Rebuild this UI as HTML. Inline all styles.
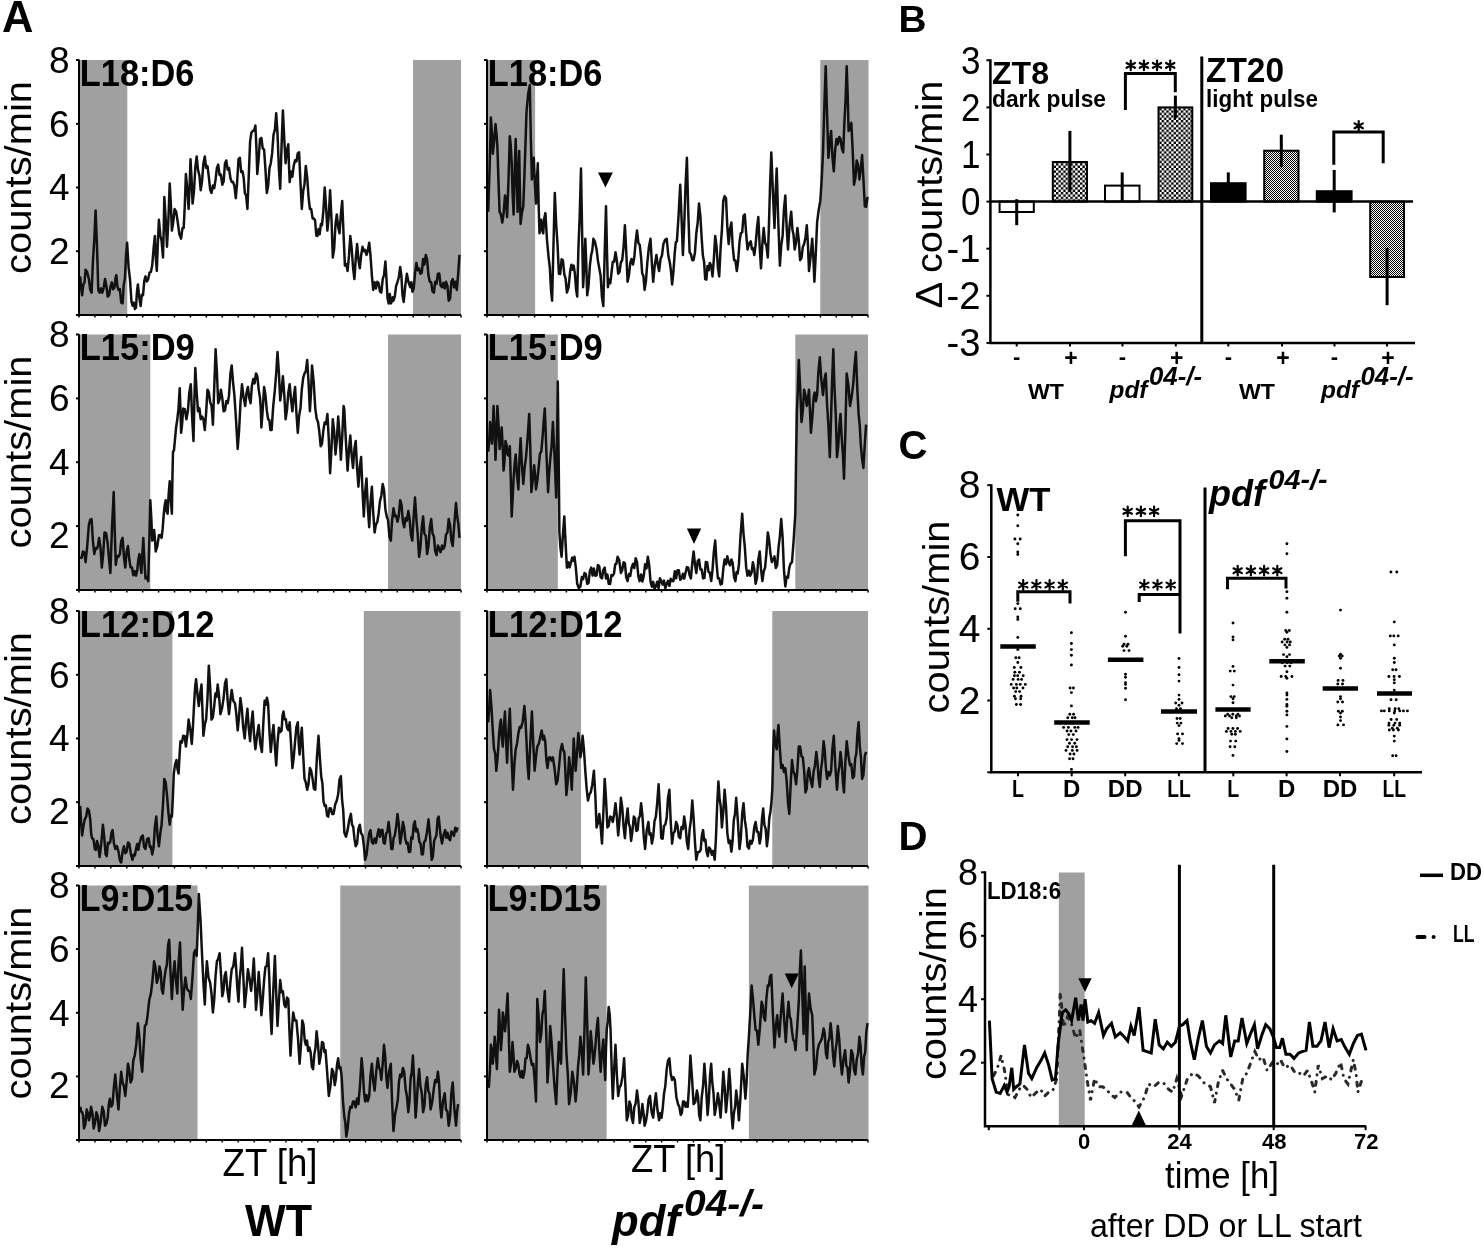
<!DOCTYPE html>
<html><head><meta charset="utf-8"><style>html,body{margin:0;padding:0;background:#fff;width:1484px;height:1248px;overflow:hidden}svg{display:block;will-change:transform}</style></head>
<body><svg width="1484" height="1248" viewBox="0 0 1484 1248"><defs>
<pattern id="chk" width="4.8" height="4.8" patternUnits="userSpaceOnUse"><rect width="4.8" height="4.8" fill="#fff"/><rect width="2.4" height="2.4" fill="#000"/><rect x="2.4" y="2.4" width="2.4" height="2.4" fill="#000"/></pattern>
<pattern id="fine" width="2" height="2" patternUnits="userSpaceOnUse"><rect width="2" height="2" fill="#fff"/><rect width="1" height="1" fill="#000"/><rect x="1" y="1" width="1" height="1" fill="#000"/></pattern>
</defs>
<rect x="79" y="60" width="48.3" height="255.0" fill="#a0a0a0"/>
<rect x="413" y="60" width="48.0" height="255.0" fill="#a0a0a0"/>
<rect x="487" y="60" width="48.1" height="255.0" fill="#a0a0a0"/>
<rect x="820.3" y="60" width="48.2" height="255.0" fill="#a0a0a0"/>
<rect x="79" y="334.5" width="71.3" height="255.5" fill="#a0a0a0"/>
<rect x="388" y="334.5" width="73.0" height="255.5" fill="#a0a0a0"/>
<rect x="487" y="334.5" width="70.8" height="255.5" fill="#a0a0a0"/>
<rect x="795.3" y="334.5" width="72.7" height="255.5" fill="#a0a0a0"/>
<rect x="79" y="611" width="93.4" height="255.0" fill="#a0a0a0"/>
<rect x="363.8" y="611" width="96.7" height="255.0" fill="#a0a0a0"/>
<rect x="487" y="611" width="94.0" height="255.0" fill="#a0a0a0"/>
<rect x="772.3" y="611" width="95.7" height="255.0" fill="#a0a0a0"/>
<rect x="79" y="885.5" width="118.5" height="254.5" fill="#a0a0a0"/>
<rect x="340.3" y="885.5" width="120.2" height="254.5" fill="#a0a0a0"/>
<rect x="487" y="885.5" width="119.6" height="254.5" fill="#a0a0a0"/>
<rect x="748.9" y="885.5" width="119.6" height="254.5" fill="#a0a0a0"/>
<path d="M80.2,276.4 L81.2,288.7 L82.1,295.3 L83.3,284.5 L84.5,282.4 L85.6,269.7 L87.3,272.5 L88.9,279.1 L90.2,289.6 L91.6,292.6 L92.9,262.1 L94.3,239.7 L95.6,210.4 L97.0,246.5 L98.3,289.9 L99.6,292.6 L101.0,288.4 L102.3,292.6 L103.7,287.8 L105.0,279.1 L106.4,285.9 L107.7,296.6 L109.1,295.2 L110.4,287.2 L111.8,282.4 L113.1,289.3 L114.5,287.2 L115.4,278.6 L116.4,275.1 L117.4,286.5 L118.5,289.9 L119.9,289.1 L121.2,302.7 L122.6,303.4 L123.7,285.0 L124.9,278.5 L126.0,256.1 L127.1,242.7 L128.6,267.4 L130.0,279.5 L131.5,302.0 L132.6,305.6 L133.7,302.6 L134.9,308.9 L136.0,307.4 L137.0,291.2 L137.9,284.5 L139.3,297.6 L140.6,306.1 L141.8,294.8 L143.0,295.3 L144.3,280.7 L145.5,276.4 L146.8,281.5 L148.2,279.1 L149.5,272.7 L150.9,272.0 L152.2,265.6 L153.6,248.4 L154.9,236.0 L155.8,257.8 L156.8,271.0 L157.9,242.1 L158.9,219.8 L160.3,235.2 L161.6,241.1 L163.0,257.5 L163.7,230.6 L164.3,196.9 L165.7,219.0 L167.0,246.8 L168.4,219.8 L169.7,183.4 L170.8,202.7 L171.9,230.6 L173.2,222.4 L174.6,209.0 L176.2,211.9 L177.8,222.5 L179.4,234.3 L181.1,238.7 L182.4,228.3 L183.7,227.9 L184.8,205.4 L185.9,174.0 L187.3,188.8 L188.6,209.0 L189.5,189.5 L190.5,159.2 L191.6,179.3 L192.6,203.6 L194.0,191.2 L195.3,167.6 L196.7,156.5 L198.0,169.9 L199.4,175.4 L200.7,190.2 L202.1,180.7 L203.4,163.5 L204.8,156.5 L206.1,167.8 L207.5,166.1 L208.8,176.7 L210.2,189.8 L211.5,192.9 L212.9,185.5 L214.2,188.2 L215.6,179.4 L216.9,168.0 L218.2,164.6 L219.6,175.2 L220.9,174.6 L222.3,184.8 L223.6,181.6 L225.0,163.3 L226.3,160.5 L227.7,169.8 L229.0,168.0 L230.4,178.0 L231.7,181.9 L233.1,182.1 L234.4,185.8 L235.8,198.2 L237.1,182.8 L238.5,159.2 L239.8,157.7 L241.2,172.1 L242.5,171.3 L243.7,178.0 L244.9,193.3 L246.1,195.4 L247.4,209.0 L248.7,177.1 L250.1,141.6 L251.4,132.8 L252.7,130.9 L254.1,130.5 L255.4,125.5 L256.4,147.6 L257.3,174.0 L258.7,158.3 L260.0,138.9 L261.4,137.9 L262.7,148.3 L264.1,149.7 L265.4,168.7 L266.8,192.9 L268.1,186.1 L269.5,168.1 L270.8,163.2 L272.2,152.7 L273.5,134.9 L274.9,129.6 L276.2,113.3 L277.5,133.4 L278.9,168.5 L280.2,188.8 L281.6,144.8 L282.9,110.6 L284.3,139.6 L285.6,163.2 L287.0,150.5 L288.3,144.3 L289.0,166.2 L289.7,182.1 L291.0,171.6 L292.4,176.6 L293.7,165.9 L295.1,160.3 L296.4,161.5 L297.8,153.3 L299.1,152.4 L300.5,183.3 L301.8,209.0 L303.2,191.1 L304.5,184.2 L305.8,165.9 L307.2,177.6 L308.5,196.3 L309.9,209.0 L311.2,208.9 L312.6,218.4 L313.9,218.5 L315.1,220.5 L316.3,235.5 L317.4,236.0 L318.6,229.0 L319.7,234.2 L320.9,223.9 L322.0,225.2 L323.4,210.6 L324.7,187.5 L326.1,207.2 L327.4,230.6 L328.8,215.5 L330.1,190.2 L331.5,219.2 L332.8,257.5 L334.2,248.2 L335.5,224.1 L336.8,214.4 L338.2,227.0 L339.5,233.3 L340.9,213.9 L342.2,200.9 L343.6,235.3 L344.9,265.6 L346.3,264.2 L347.6,271.0 L349.0,255.4 L350.3,236.0 L351.7,248.5 L353.0,267.2 L354.4,279.1 L355.7,259.3 L357.1,244.1 L358.4,259.2 L359.8,268.3 L361.1,255.7 L362.5,246.8 L363.8,251.1 L365.1,249.9 L366.5,254.9 L367.8,250.8 L369.2,242.7 L370.5,255.4 L371.9,275.9 L373.2,289.9 L374.6,282.2 L375.9,288.5 L377.3,281.8 L378.6,283.2 L380.0,291.6 L381.3,292.6 L382.7,279.3 L384.0,275.0 L385.4,261.6 L386.4,277.7 L387.5,298.0 L388.7,303.6 L389.8,293.9 L391.0,303.4 L392.1,300.7 L392.8,297.2 L393.5,300.7 L394.8,296.4 L396.1,286.1 L397.5,281.8 L398.8,277.4 L400.2,267.0 L401.4,276.0 L402.5,295.2 L403.7,302.0 L405.3,285.6 L406.9,273.7 L408.5,282.2 L410.2,287.2 L411.3,282.3 L412.5,291.8 L413.7,288.5 L415.0,273.5 L416.4,262.9 L417.7,270.3 L419.1,268.4 L420.4,273.7 L421.8,272.7 L423.1,258.9 L424.4,264.5 L425.8,254.9 L427.1,259.5 L428.5,275.5 L429.8,281.8 L431.2,282.3 L432.5,291.3 L433.9,292.6 L435.2,281.7 L436.6,283.7 L437.9,273.7 L439.3,273.6 L440.6,285.6 L442.0,287.2 L443.3,282.9 L444.7,288.4 L446.0,281.8 L447.4,285.8 L448.7,300.7 L450.1,298.4 L451.4,281.5 L452.7,279.1 L454.1,287.5 L455.4,281.8 L456.8,289.9 L458.1,274.9 L459.5,254.9" fill="none" stroke="#111" stroke-width="2.5" stroke-linejoin="round"/>
<path d="M488.2,211.7 L489.6,168.2 L490.9,117.4 L491.9,132.6 L492.8,153.8 L494.2,140.7 L495.5,124.1 L496.5,133.8 L497.4,147.0 L498.5,182.1 L499.6,211.7 L500.9,214.5 L502.3,222.5 L503.6,213.3 L505.0,195.6 L506.0,201.0 L507.1,217.1 L508.5,180.1 L509.8,136.3 L510.7,144.5 L511.7,163.2 L512.6,194.3 L513.6,214.4 L514.7,171.4 L515.7,138.9 L516.7,178.4 L517.6,211.7 L518.4,178.9 L519.2,151.1 L519.9,190.0 L520.6,223.9 L521.9,212.7 L523.3,206.3 L524.9,161.6 L526.5,112.0 L528.1,94.5 L529.8,85.0 L530.8,137.3 L531.9,179.4 L532.9,163.7 L533.8,157.8 L534.9,184.2 L536.0,203.6 L536.9,179.3 L537.8,163.2 L538.6,203.0 L539.5,233.3 L540.4,224.6 L541.3,219.8 L542.3,230.7 L543.2,233.3 L544.3,218.0 L545.4,213.1 L547.0,240.0 L548.6,257.5 L549.8,267.4 L551.0,289.8 L552.1,300.7 L553.5,244.4 L554.8,192.9 L556.2,224.5 L557.5,243.8 L558.9,273.7 L560.2,274.0 L561.6,259.3 L562.9,260.2 L564.3,274.2 L565.6,278.6 L566.9,292.6 L568.6,287.1 L570.2,271.0 L571.4,264.8 L572.5,269.7 L573.7,265.6 L574.9,273.8 L576.0,288.5 L577.2,296.6 L578.4,248.8 L579.7,216.0 L581.0,168.6 L582.0,225.7 L583.1,287.2 L584.2,267.8 L585.3,238.7 L586.2,261.6 L587.2,295.3 L588.5,286.0 L589.9,265.3 L591.2,254.9 L592.3,250.5 L593.4,238.7 L595.0,241.9 L596.6,249.5 L597.9,260.6 L599.3,268.3 L600.6,275.5 L602.0,297.6 L603.3,306.1 L604.7,252.5 L606.0,206.3 L607.0,252.0 L607.9,287.2 L609.1,279.4 L610.3,283.2 L611.4,273.7 L612.8,261.7 L614.1,261.8 L615.5,252.2 L616.8,260.3 L618.2,273.7 L619.5,272.0 L620.9,262.2 L622.2,260.2 L623.6,246.6 L624.9,225.2 L626.2,250.9 L627.6,281.8 L628.9,275.6 L630.3,262.9 L631.6,259.0 L633.0,264.5 L634.3,257.5 L635.7,241.1 L637.0,230.6 L638.4,243.0 L639.7,244.7 L641.1,257.5 L642.2,273.5 L643.4,275.8 L644.6,289.9 L645.9,281.6 L647.3,262.9 L648.9,247.2 L650.5,238.7 L651.9,263.9 L653.2,281.8 L654.8,264.7 L656.4,254.9 L657.8,264.7 L659.1,271.0 L660.6,258.7 L662.0,255.4 L663.4,244.1 L665.1,239.7 L666.7,238.7 L668.3,255.5 L669.9,262.9 L671.0,271.4 L672.1,284.5 L673.4,271.8 L674.8,252.2 L675.8,242.3 L676.9,241.4 L678.5,216.9 L680.2,184.8 L681.5,216.9 L682.9,254.9 L684.2,226.2 L685.5,186.4 L686.9,157.8 L688.2,209.7 L689.6,252.2 L690.9,254.1 L692.3,260.2 L693.6,260.0 L695.0,252.2 L696.3,233.4 L697.7,222.5 L699.0,203.6 L700.4,216.5 L701.7,238.7 L702.9,255.8 L704.1,261.8 L705.2,279.1 L706.4,279.6 L707.5,265.9 L708.7,270.3 L709.8,262.9 L711.2,265.7 L712.5,276.4 L713.8,259.8 L715.2,236.0 L716.5,245.8 L717.9,267.3 L719.2,276.4 L720.6,247.9 L721.9,229.8 L723.3,200.9 L724.6,196.1 L726.0,198.2 L727.3,226.4 L728.7,244.1 L730.0,228.9 L731.4,222.5 L732.7,246.4 L734.1,260.2 L735.4,260.4 L736.8,271.0 L738.1,261.1 L739.5,242.1 L740.8,233.3 L742.2,232.3 L743.5,215.8 L744.8,214.4 L746.2,234.1 L747.5,249.5 L749.2,243.3 L750.8,241.4 L751.9,249.2 L753.1,248.4 L754.3,254.9 L755.6,244.8 L757.0,227.8 L758.3,217.1 L759.7,246.9 L761.0,268.3 L762.4,243.4 L763.7,227.9 L765.1,242.9 L766.4,245.4 L767.8,257.5 L768.9,226.9 L770.1,183.3 L771.3,152.4 L772.9,192.4 L774.5,227.9 L775.6,193.2 L776.7,168.6 L778.3,222.5 L779.9,265.6 L781.2,245.6 L782.6,235.9 L783.9,209.9 L785.3,195.6 L786.6,226.0 L788.0,249.5 L789.6,225.1 L791.2,211.7 L792.4,229.2 L793.5,234.6 L794.7,249.5 L796.1,242.0 L797.4,227.9 L798.8,240.4 L800.1,260.2 L801.5,257.8 L802.8,247.1 L804.1,244.1 L805.5,237.5 L806.8,225.2 L807.9,243.7 L809.0,271.0 L810.6,256.6 L812.2,238.7 L813.3,256.5 L814.4,281.8 L815.7,255.5 L817.1,222.5 L818.7,210.0 L820.3,200.9 L821.7,179.6 L823.0,152.4 L824.4,105.2 L825.7,66.2 L827.1,115.6 L828.4,157.8 L829.8,142.4 L831.1,130.9 L832.4,156.5 L833.8,171.3 L835.1,150.4 L836.5,138.9 L837.8,144.3 L839.2,136.9 L840.5,138.9 L841.9,148.4 L843.2,152.4 L844.4,121.9 L845.6,99.6 L846.7,66.2 L847.7,95.8 L848.6,130.9 L850.0,129.0 L851.3,122.8 L852.7,150.5 L854.0,184.8 L855.4,177.8 L856.7,160.5 L858.1,165.1 L859.4,179.4 L860.7,169.9 L862.1,155.1 L863.4,178.5 L864.8,206.3 L866.1,206.8 L867.5,196.9" fill="none" stroke="#111" stroke-width="2.5" stroke-linejoin="round"/>
<path d="M80.2,556.8 L81.6,558.0 L82.9,551.4 L84.3,552.5 L85.6,562.2 L87.3,545.3 L88.9,524.5 L90.2,519.9 L91.6,519.1 L92.9,540.9 L94.3,554.1 L95.6,548.1 L97.0,548.7 L98.0,545.3 L99.1,537.9 L100.5,547.5 L101.8,567.6 L103.2,554.2 L104.5,532.5 L106.1,533.2 L107.7,543.3 L109.1,560.1 L110.4,573.0 L112.0,527.6 L113.7,492.1 L114.7,530.4 L115.8,564.9 L117.2,555.9 L118.5,556.8 L119.9,553.9 L121.2,541.3 L122.6,537.9 L123.9,556.5 L125.3,567.6 L126.6,551.6 L128.0,546.0 L129.3,559.5 L130.6,567.6 L132.0,567.5 L133.3,575.3 L134.7,571.1 L136.0,575.7 L137.2,570.6 L138.4,559.0 L139.5,554.1 L140.5,565.4 L141.4,573.0 L142.4,553.0 L143.3,537.9 L144.4,561.0 L145.5,578.4 L146.8,576.9 L148.2,581.1 L149.2,545.2 L150.3,500.2 L151.3,517.7 L152.2,540.6 L153.2,538.8 L154.1,529.9 L154.9,538.3 L155.7,551.4 L157.3,546.3 L158.9,535.2 L160.3,534.9 L161.6,537.9 L162.7,528.4 L163.8,513.7 L164.7,505.2 L165.7,500.2 L166.6,511.4 L167.6,513.7 L168.7,493.7 L169.7,481.3 L170.8,499.9 L171.9,513.7 L172.4,479.2 L173.0,451.7 L174.0,450.2 L175.1,438.2 L176.2,426.7 L177.3,419.3 L178.5,408.6 L179.7,388.3 L180.4,407.3 L181.1,432.8 L182.1,424.2 L183.2,408.6 L184.8,409.1 L186.4,419.3 L187.9,410.8 L189.3,392.4 L190.8,384.3 L192.1,416.9 L193.5,440.9 L194.4,399.1 L195.3,368.1 L196.7,392.7 L198.0,411.3 L199.4,408.2 L200.7,419.2 L202.1,416.6 L203.4,419.3 L204.8,430.1 L206.1,413.1 L207.5,389.7 L208.8,392.1 L210.2,402.3 L211.5,405.9 L212.2,413.1 L212.9,424.7 L214.2,388.9 L215.6,349.3 L216.9,371.7 L218.2,403.2 L219.6,399.1 L220.9,389.7 L222.3,398.2 L223.6,411.3 L225.0,410.5 L226.3,401.0 L227.7,403.2 L229.0,395.6 L230.4,373.8 L231.7,365.4 L233.1,383.0 L234.4,395.1 L236.0,419.5 L237.7,449.0 L239.1,430.2 L240.5,402.4 L242.0,384.3 L243.6,397.3 L245.2,405.9 L246.5,393.1 L247.9,387.0 L249.2,397.7 L250.6,403.2 L251.9,385.7 L253.3,378.9 L254.6,383.4 L256.0,373.4 L257.3,376.2 L258.7,389.6 L260.0,397.8 L260.7,407.2 L261.4,427.4 L262.7,410.1 L264.1,387.0 L265.4,394.8 L266.8,410.2 L268.1,419.3 L269.3,419.8 L270.4,430.0 L271.6,430.1 L273.2,406.3 L274.9,389.7 L276.2,373.2 L277.5,352.0 L278.9,372.6 L280.2,400.5 L281.6,390.0 L282.9,376.2 L284.3,395.1 L285.6,419.3 L287.0,409.7 L288.3,392.8 L289.7,384.3 L291.0,399.6 L292.4,411.3 L293.7,397.4 L295.1,387.0 L296.4,412.7 L297.8,432.8 L299.1,415.9 L300.5,408.0 L301.8,389.7 L303.2,377.9 L304.5,373.5 L305.8,371.3 L307.2,360.0 L308.5,381.5 L309.9,411.3 L311.0,392.7 L312.0,365.4 L313.7,382.0 L315.3,408.6 L316.6,418.4 L318.0,422.0 L319.3,431.3 L320.7,446.3 L322.0,443.6 L323.4,430.1 L324.7,422.5 L326.1,423.8 L327.4,413.9 L328.8,439.5 L330.1,473.2 L331.5,448.1 L332.8,419.3 L334.2,432.0 L335.5,454.4 L336.8,440.6 L338.2,416.6 L339.5,434.1 L340.9,459.8 L342.2,437.3 L343.6,405.9 L344.3,409.2 L344.9,422.0 L346.3,448.5 L347.6,470.6 L349.0,449.4 L350.3,435.5 L351.7,455.3 L353.0,467.9 L354.4,449.5 L355.7,440.9 L357.1,468.6 L358.4,486.7 L359.8,467.1 L361.1,457.1 L362.5,490.6 L363.8,516.4 L365.1,492.4 L366.5,478.6 L367.8,507.2 L369.2,527.2 L370.5,502.6 L371.9,486.7 L373.2,512.2 L374.6,532.5 L375.9,524.5 L377.3,522.1 L378.6,513.7 L380.0,500.8 L381.3,496.0 L382.7,484.0 L384.0,489.9 L385.4,509.4 L386.7,516.4 L388.1,520.4 L389.4,536.6 L390.8,540.6 L392.1,520.2 L393.5,508.3 L394.8,516.3 L396.1,515.6 L397.5,521.8 L398.8,515.7 L400.2,500.2 L401.5,504.7 L402.9,521.8 L404.2,527.2 L405.6,518.1 L406.9,520.6 L408.3,511.0 L409.6,519.0 L411.0,535.2 L412.3,540.6 L413.7,516.4 L415.0,497.5 L416.4,519.2 L417.7,534.4 L419.1,556.8 L420.4,547.8 L421.8,527.4 L423.1,516.4 L424.4,533.5 L425.8,536.1 L427.1,554.1 L428.5,546.0 L429.8,527.6 L431.2,519.1 L432.5,533.3 L433.9,536.4 L435.2,551.4 L436.6,555.1 L437.9,545.6 L439.3,548.7 L440.6,552.2 L442.0,545.4 L443.3,548.9 L444.7,546.0 L446.0,534.4 L447.4,532.6 L448.7,519.1 L450.1,525.2 L451.4,540.9 L452.7,546.0 L454.4,522.8 L456.0,502.9 L457.2,516.5 L458.3,523.6 L459.5,537.9" fill="none" stroke="#111" stroke-width="2.5" stroke-linejoin="round"/>
<path d="M488.2,451.7 L489.2,441.1 L490.1,422.0 L491.1,428.5 L492.0,443.6 L492.8,429.0 L493.6,405.9 L494.6,430.0 L495.5,459.8 L496.5,436.5 L497.4,405.9 L498.5,424.0 L499.6,449.0 L500.6,441.7 L501.7,427.4 L502.7,446.9 L503.6,470.6 L504.5,460.8 L505.5,440.9 L506.6,445.2 L507.6,454.4 L508.7,455.8 L509.8,446.3 L510.7,476.1 L511.7,516.4 L512.6,499.2 L513.6,478.6 L514.7,463.1 L515.7,454.4 L517.1,476.7 L518.4,489.4 L519.5,458.4 L520.6,438.2 L521.9,464.5 L523.3,484.0 L524.6,467.9 L526.0,457.1 L527.6,438.0 L529.2,413.9 L530.3,447.7 L531.4,492.1 L532.7,481.1 L534.1,465.2 L535.0,473.4 L536.0,489.4 L537.3,480.8 L538.6,467.9 L540.0,453.4 L541.3,451.6 L542.7,435.5 L543.8,419.9 L544.8,408.6 L546.5,455.1 L548.1,492.1 L549.2,472.3 L550.2,459.8 L551.6,446.0 L552.9,422.0 L554.5,455.4 L556.2,497.5 L557.0,442.1 L557.8,381.6 L558.6,452.0 L559.4,532.5 L560.5,548.2 L561.6,556.8 L562.9,534.8 L564.3,516.4 L565.6,543.6 L566.9,567.6 L568.3,562.2 L569.6,567.4 L571.0,562.2 L572.2,557.6 L573.3,560.8 L574.5,556.8 L575.8,567.3 L577.2,583.8 L578.8,588.0 L580.4,586.5 L581.8,577.1 L583.1,579.1 L584.5,573.0 L585.8,573.8 L587.2,583.8 L588.5,583.2 L589.9,570.9 L591.2,567.6 L592.6,575.5 L593.9,568.6 L595.3,575.7 L596.6,575.4 L597.9,564.9 L599.3,566.6 L600.6,577.0 L602.0,578.4 L603.3,569.8 L604.7,567.6 L606.0,578.5 L607.4,574.5 L608.7,583.8 L610.1,584.1 L611.4,575.1 L612.8,575.7 L614.0,573.7 L615.2,564.4 L616.4,563.6 L617.6,556.8 L619.2,560.0 L620.9,573.0 L622.2,570.3 L623.6,562.2 L624.9,563.2 L626.2,577.4 L627.6,581.1 L628.9,573.9 L630.3,575.7 L631.6,567.6 L633.0,563.9 L634.3,568.0 L635.7,558.2 L637.0,562.2 L638.4,576.7 L639.7,581.1 L641.1,574.5 L642.4,581.5 L643.8,575.7 L645.1,564.2 L646.5,568.4 L647.8,556.8 L649.2,565.2 L650.5,581.1 L651.9,586.8 L653.2,581.9 L654.5,589.0 L655.9,586.5 L657.2,581.7 L658.6,588.3 L659.9,578.3 L661.3,581.1 L662.6,584.5 L664.0,580.6 L665.3,588.3 L666.7,583.8 L668.0,580.9 L669.4,585.9 L670.7,578.8 L672.1,581.1 L673.4,581.2 L674.8,571.2 L676.1,578.4 L677.5,570.3 L678.8,570.3 L680.2,579.8 L681.5,578.4 L682.9,573.8 L684.2,578.6 L685.5,573.0 L686.9,567.1 L688.2,567.6 L689.6,575.3 L690.9,578.4 L692.3,562.6 L693.6,551.4 L695.0,564.6 L696.3,573.0 L697.7,561.1 L699.0,559.5 L700.4,569.4 L701.7,569.6 L703.1,578.4 L704.4,578.1 L705.8,562.1 L707.1,562.2 L708.5,571.9 L709.8,572.6 L711.2,581.1 L712.5,570.0 L713.8,552.1 L715.2,540.6 L716.5,562.5 L717.9,578.4 L719.2,578.2 L720.6,584.5 L721.9,583.8 L723.3,569.0 L724.6,559.5 L726.0,564.2 L727.3,556.2 L728.7,562.2 L730.0,565.4 L731.4,559.5 L732.7,563.4 L734.1,577.1 L735.4,581.1 L736.6,572.0 L737.7,573.4 L738.9,564.9 L740.5,536.3 L742.2,513.7 L743.5,533.5 L744.8,546.9 L746.2,567.6 L747.5,575.7 L748.9,570.8 L750.2,575.7 L751.6,572.5 L752.9,562.2 L754.3,568.9 L755.6,583.8 L757.0,578.0 L758.3,559.7 L759.7,551.4 L761.0,568.9 L762.4,581.1 L763.7,571.7 L765.1,567.6 L766.4,553.3 L767.8,532.5 L769.1,540.0 L770.5,554.1 L771.8,562.1 L773.1,559.5 L774.5,556.4 L775.8,568.1 L777.2,564.9 L778.5,547.9 L779.9,536.1 L781.2,519.1 L782.6,537.2 L783.9,569.1 L785.3,586.5 L786.6,576.7 L788.0,577.8 L789.3,567.6 L790.7,563.2 L792.0,562.2 L793.6,541.1 L795.3,513.7 L796.1,457.2 L796.9,411.3 L797.8,390.5 L798.8,360.0 L800.1,386.1 L801.5,422.0 L802.8,411.3 L804.1,389.7 L805.5,395.2 L806.8,405.9 L807.9,399.8 L809.0,389.7 L809.9,409.0 L810.9,432.8 L812.2,419.0 L813.6,397.8 L814.7,392.6 L815.9,401.3 L817.1,395.1 L818.4,371.8 L819.8,357.3 L821.4,380.4 L823.0,395.1 L824.4,379.7 L825.7,373.5 L827.1,404.8 L828.4,425.4 L829.8,457.1 L830.9,422.9 L832.1,380.5 L833.3,349.3 L834.5,387.7 L835.8,415.9 L837.0,457.1 L838.2,446.8 L839.4,425.5 L840.5,413.9 L841.7,437.7 L842.9,454.5 L844.0,478.6 L845.4,430.2 L846.7,373.5 L848.4,385.4 L850.0,405.9 L851.6,397.2 L853.2,384.3 L854.5,366.2 L855.9,352.0 L857.2,386.6 L858.6,413.9 L859.7,424.9 L860.7,443.6 L862.1,458.9 L863.4,467.9 L864.8,443.8 L866.1,424.7" fill="none" stroke="#111" stroke-width="2.5" stroke-linejoin="round"/>
<path d="M80.2,805.9 L81.2,824.6 L82.1,835.5 L83.5,825.7 L84.8,819.3 L86.2,816.7 L87.5,808.5 L88.9,810.5 L90.2,819.3 L91.2,834.1 L92.1,838.2 L93.5,839.5 L94.8,849.0 L95.9,850.0 L97.0,840.9 L98.3,845.5 L99.6,857.1 L101.3,843.4 L102.9,824.7 L104.2,836.9 L105.6,854.4 L106.7,856.1 L107.9,842.8 L109.1,843.6 L110.3,841.9 L111.4,832.9 L112.6,830.1 L113.9,843.1 L115.3,849.0 L116.9,846.1 L118.5,851.7 L119.9,860.3 L121.2,862.5 L122.6,851.7 L123.9,846.3 L125.3,853.2 L126.6,851.7 L128.0,842.4 L129.3,843.6 L130.9,854.2 L132.5,859.8 L133.7,854.4 L134.9,855.5 L136.0,849.0 L137.2,843.9 L138.4,849.7 L139.5,843.6 L141.2,837.1 L142.8,835.5 L144.1,847.0 L145.5,849.0 L147.1,839.1 L148.7,838.2 L149.9,847.2 L151.0,846.5 L152.2,854.4 L153.6,847.2 L154.9,826.4 L156.3,816.6 L157.6,836.3 L158.9,846.3 L160.3,833.0 L161.6,824.7 L163.0,804.3 L164.3,778.9 L165.7,782.4 L167.0,795.1 L168.4,812.7 L169.7,824.7 L170.8,815.4 L171.9,816.6 L172.8,798.6 L173.8,773.5 L175.1,764.4 L176.5,760.0 L177.5,769.3 L178.6,773.5 L179.6,754.1 L180.5,741.2 L181.9,742.7 L183.2,735.8 L184.6,735.9 L185.9,746.6 L187.3,735.3 L188.6,719.6 L190.2,728.6 L191.8,743.9 L192.9,727.5 L194.0,706.1 L195.1,687.2 L196.1,679.2 L197.5,694.8 L198.8,706.1 L200.2,693.5 L201.5,684.6 L202.5,712.0 L203.4,735.8 L204.8,724.5 L206.1,719.6 L207.5,697.8 L208.8,665.7 L210.2,687.6 L211.5,719.6 L212.9,717.3 L214.2,706.1 L215.4,693.4 L216.5,697.0 L217.7,684.6 L219.1,696.5 L220.4,714.2 L222.0,708.5 L223.6,698.0 L225.0,683.3 L226.3,679.2 L227.7,701.2 L229.0,714.2 L230.4,700.3 L231.7,689.9 L233.3,700.9 L235.0,703.4 L236.3,713.8 L237.7,730.4 L239.0,717.3 L240.4,698.0 L241.8,708.6 L243.2,727.3 L244.7,738.5 L246.0,722.0 L247.4,708.8 L248.7,727.7 L250.1,741.2 L251.4,723.3 L252.7,711.5 L254.1,735.7 L255.4,749.2 L257.1,735.0 L258.7,725.0 L260.3,743.8 L261.9,751.9 L263.3,723.9 L264.6,700.7 L265.8,704.7 L266.9,697.7 L268.1,703.4 L269.5,732.5 L270.8,751.9 L272.2,735.2 L273.5,725.0 L274.9,747.0 L276.2,765.4 L277.5,743.1 L278.9,727.7 L280.2,732.1 L281.6,730.4 L282.5,715.8 L283.5,711.5 L284.6,719.3 L285.8,719.2 L287.0,727.7 L288.3,730.1 L289.7,722.3 L291.0,743.4 L292.4,768.1 L293.7,757.9 L295.1,741.2 L296.4,727.0 L297.8,722.3 L298.7,743.1 L299.6,754.6 L300.7,739.4 L301.8,727.7 L303.2,755.1 L304.5,778.9 L305.8,782.4 L307.2,789.7 L308.5,784.1 L309.9,768.1 L311.2,770.9 L312.6,778.9 L313.9,788.8 L315.3,789.7 L316.9,757.6 L318.5,735.8 L319.9,758.9 L321.2,776.2 L322.4,783.4 L323.5,801.3 L324.7,805.9 L325.9,805.4 L327.1,815.7 L328.2,816.6 L329.6,808.2 L330.9,808.5 L332.3,814.1 L333.6,813.9 L335.2,804.5 L336.8,800.5 L338.2,794.0 L339.5,779.7 L340.9,776.2 L342.1,800.2 L343.2,809.8 L344.4,832.8 L346.0,836.7 L347.6,830.1 L349.2,820.3 L350.9,813.9 L352.0,824.6 L353.2,826.6 L354.4,838.2 L355.7,846.2 L357.1,843.6 L358.4,828.8 L359.8,824.7 L361.1,833.2 L362.5,835.5 L363.8,845.0 L365.1,859.8 L366.5,855.0 L367.8,843.6 L369.2,833.3 L370.5,830.1 L371.9,842.1 L373.2,843.6 L374.6,838.5 L375.9,842.9 L377.3,835.5 L378.6,829.2 L380.0,836.7 L381.3,830.1 L382.5,830.0 L383.7,843.1 L384.8,843.6 L386.1,833.5 L387.3,832.1 L388.6,822.0 L389.9,832.5 L391.3,849.0 L392.5,849.1 L393.6,838.0 L394.8,835.5 L396.1,827.1 L397.5,813.9 L398.8,824.2 L400.2,843.6 L401.5,835.4 L402.9,822.0 L404.1,827.3 L405.2,838.2 L406.4,843.6 L407.6,842.5 L408.9,851.9 L410.2,851.7 L411.3,837.3 L412.5,838.8 L413.7,824.7 L414.8,821.3 L416.0,831.4 L417.1,828.8 L418.2,832.8 L419.4,842.0 L420.6,843.6 L421.8,854.4 L422.9,854.3 L424.1,842.0 L425.3,840.9 L426.9,832.7 L428.5,819.3 L430.1,836.3 L431.7,859.8 L432.9,856.6 L434.1,841.1 L435.2,838.2 L436.4,835.5 L437.6,818.9 L438.7,816.6 L440.4,834.3 L442.0,843.6 L443.6,834.7 L445.2,830.1 L446.4,837.7 L447.5,832.7 L448.7,838.2 L450.1,840.2 L451.4,831.5 L452.7,832.8 L454.0,835.9 L455.2,827.7 L456.4,831.4 L457.6,827.4" fill="none" stroke="#111" stroke-width="2.5" stroke-linejoin="round"/>
<path d="M488.2,722.3 L489.2,708.7 L490.1,689.9 L491.5,707.9 L492.8,730.4 L494.0,748.9 L495.2,753.5 L496.3,770.8 L497.7,756.2 L499.0,735.8 L500.0,724.5 L500.9,719.6 L501.9,738.5 L502.8,746.6 L503.9,725.4 L505.0,711.5 L506.0,739.7 L507.1,762.7 L508.5,731.0 L509.8,708.8 L511.4,753.4 L513.0,789.7 L514.4,764.0 L515.7,749.2 L517.1,743.2 L518.4,733.1 L519.8,726.9 L521.1,727.7 L522.7,721.7 L524.4,706.1 L525.4,718.8 L526.5,741.2 L527.6,765.2 L528.7,778.9 L530.3,743.4 L531.9,711.5 L533.3,743.9 L534.6,770.8 L536.0,756.6 L537.3,746.6 L538.9,743.5 L540.5,735.8 L541.7,730.4 L542.9,739.7 L544.0,735.8 L545.2,741.3 L546.4,760.4 L547.5,768.1 L548.9,757.7 L550.2,757.3 L551.6,760.7 L552.9,757.3 L554.5,768.2 L556.2,784.3 L557.5,780.8 L558.9,768.1 L560.5,750.7 L562.1,743.9 L563.2,750.0 L564.3,751.9 L565.3,769.6 L566.4,795.1 L567.8,780.2 L569.1,757.3 L570.5,771.0 L571.8,789.7 L572.7,767.1 L573.7,738.5 L574.6,752.4 L575.6,770.8 L576.9,754.4 L578.3,733.1 L579.3,742.6 L580.4,757.3 L581.5,750.5 L582.6,735.8 L583.9,749.1 L585.3,770.8 L586.6,788.1 L588.0,800.5 L589.3,794.7 L590.7,792.4 L592.3,784.5 L593.9,770.8 L595.3,794.9 L596.6,827.4 L597.9,823.0 L599.3,813.9 L600.6,825.9 L602.0,843.6 L603.3,813.7 L604.7,778.9 L606.0,798.4 L607.4,827.4 L608.7,825.8 L610.1,816.6 L611.4,817.4 L612.8,822.0 L614.1,814.6 L615.5,803.2 L616.8,816.2 L618.2,835.5 L619.5,820.4 L620.9,797.8 L622.2,807.1 L623.6,826.7 L624.9,838.2 L626.2,821.1 L627.6,808.5 L628.8,823.7 L629.9,826.9 L631.1,840.9 L632.4,831.5 L633.8,816.6 L635.1,818.3 L636.3,830.9 L637.6,830.1 L638.7,818.3 L639.9,816.0 L641.1,803.2 L642.4,815.4 L643.8,837.0 L645.1,849.0 L646.7,830.5 L648.4,822.0 L649.5,834.7 L650.7,833.3 L651.9,843.6 L653.2,837.0 L654.5,821.2 L655.9,816.6 L657.2,802.9 L658.6,784.3 L659.9,809.6 L661.3,838.2 L662.6,838.8 L664.0,825.9 L665.3,824.7 L666.7,817.8 L668.0,798.1 L669.4,789.7 L670.7,821.7 L672.1,843.6 L673.4,833.0 L674.8,831.5 L676.1,822.0 L677.5,825.7 L678.8,836.6 L680.2,838.2 L681.5,826.9 L682.9,829.0 L684.2,816.6 L685.5,825.4 L686.9,842.2 L688.2,849.0 L689.6,829.7 L690.9,820.2 L692.3,800.5 L693.6,818.0 L695.0,842.7 L696.3,859.8 L697.9,852.1 L699.6,851.7 L700.7,849.7 L701.9,835.2 L703.1,830.1 L704.2,840.8 L705.4,839.7 L706.6,851.7 L707.8,856.1 L709.1,847.5 L710.3,849.0 L711.8,854.7 L713.2,850.9 L714.7,859.8 L715.9,839.1 L717.2,804.1 L718.4,781.6 L719.6,798.7 L720.8,806.9 L721.9,827.4 L723.3,811.7 L724.6,789.7 L726.0,806.1 L727.3,832.8 L728.7,843.1 L730.0,840.6 L731.4,851.7 L732.6,840.5 L733.8,820.0 L735.0,813.7 L736.2,797.8 L737.8,820.2 L739.5,849.0 L740.8,838.6 L742.2,813.6 L743.5,803.2 L744.8,819.9 L746.2,829.4 L747.5,846.3 L748.9,848.6 L750.2,840.8 L751.6,843.6 L752.9,839.5 L754.3,827.1 L755.6,822.0 L757.0,831.8 L758.3,832.0 L759.7,843.6 L760.8,837.0 L762.0,818.4 L763.2,808.5 L764.4,824.9 L765.7,829.1 L766.9,846.3 L768.1,836.4 L769.3,818.0 L770.5,811.2 L771.4,802.6 L772.3,789.7 L773.1,756.1 L774.0,730.4 L775.3,743.6 L776.7,749.2 L777.6,733.1 L778.5,725.0 L779.9,749.4 L781.2,768.1 L782.6,764.8 L783.9,772.0 L785.3,768.1 L786.6,780.1 L788.0,802.9 L789.3,813.9 L790.7,783.6 L792.0,760.0 L793.4,771.5 L794.7,774.5 L796.1,784.3 L797.4,769.5 L798.8,746.6 L800.1,746.6 L801.5,756.3 L802.8,757.3 L804.1,770.3 L805.5,792.4 L806.7,788.9 L807.8,772.8 L809.0,768.1 L810.6,779.9 L812.2,787.0 L813.6,771.8 L814.9,765.7 L816.3,751.9 L817.4,761.5 L818.6,778.6 L819.8,787.0 L821.0,769.7 L822.3,759.8 L823.6,741.2 L824.7,750.1 L825.9,768.1 L827.1,778.9 L828.4,772.1 L829.8,775.5 L831.1,770.8 L832.4,748.8 L833.8,735.8 L835.4,767.4 L837.0,789.7 L838.2,773.5 L839.4,766.4 L840.5,751.9 L841.7,761.8 L842.9,782.0 L844.0,792.4 L845.4,761.5 L846.7,741.2 L848.4,755.5 L850.0,765.4 L851.3,764.1 L852.7,778.1 L854.0,776.2 L855.2,758.3 L856.3,754.0 L857.4,733.4 L858.6,722.3 L859.8,746.6 L860.9,756.5 L862.1,778.9 L863.4,775.2 L864.8,755.8 L866.1,751.9" fill="none" stroke="#111" stroke-width="2.5" stroke-linejoin="round"/>
<path d="M80.2,1106.8 L81.2,1111.8 L82.1,1112.2 L83.1,1115.6 L84.0,1128.4 L85.4,1124.2 L86.7,1109.5 L87.8,1113.0 L88.9,1120.3 L89.9,1116.5 L91.0,1106.8 L92.4,1113.0 L93.7,1128.4 L95.1,1122.5 L96.4,1112.2 L97.8,1116.5 L99.1,1131.1 L100.7,1121.6 L102.3,1106.8 L103.7,1111.4 L105.0,1125.7 L106.4,1123.8 L107.7,1117.6 L108.8,1104.6 L109.9,1098.7 L111.2,1106.6 L112.6,1104.1 L113.9,1086.8 L115.3,1074.5 L116.9,1094.6 L118.5,1109.5 L119.9,1087.0 L121.2,1071.8 L122.6,1082.7 L123.9,1086.1 L125.3,1096.0 L126.6,1082.2 L128.0,1063.7 L129.3,1070.8 L130.6,1082.5 L132.0,1078.8 L133.3,1060.3 L134.7,1055.6 L136.3,1044.5 L137.9,1023.2 L139.4,1037.1 L140.8,1060.3 L142.2,1071.8 L143.6,1046.8 L144.9,1025.9 L146.3,1024.2 L147.6,1015.2 L149.2,1000.3 L150.9,993.6 L152.5,980.5 L154.1,961.3 L155.4,967.0 L156.8,982.8 L158.1,978.5 L159.5,966.6 L160.7,971.7 L161.8,989.7 L163.0,993.6 L164.3,979.4 L165.7,969.3 L166.9,964.9 L168.0,945.5 L169.2,939.7 L170.5,972.5 L171.9,999.0 L173.2,975.4 L174.6,961.3 L175.9,980.1 L177.3,993.6 L178.6,962.5 L180.0,942.4 L181.3,980.0 L182.7,1009.8 L184.0,990.6 L185.4,977.4 L187.0,988.8 L188.6,990.9 L189.7,991.6 L190.8,999.0 L192.4,978.4 L194.0,953.2 L195.3,950.0 L196.7,955.9 L197.8,926.7 L198.8,893.9 L200.5,920.1 L202.1,955.9 L203.4,982.7 L204.8,1004.4 L205.8,978.7 L206.9,961.3 L208.5,977.5 L210.2,982.8 L211.5,993.7 L212.9,1012.5 L214.2,999.6 L215.6,975.5 L216.9,961.3 L218.2,958.9 L219.6,953.2 L220.9,973.0 L222.3,996.3 L223.5,990.4 L224.6,976.1 L225.8,972.0 L227.4,990.2 L229.0,1001.7 L230.4,981.9 L231.7,969.3 L233.3,966.4 L235.0,953.2 L236.1,967.2 L237.3,988.0 L238.5,1001.7 L239.6,979.6 L240.8,967.5 L242.0,947.8 L243.3,975.8 L244.7,1007.1 L246.3,991.2 L247.9,969.3 L249.5,978.1 L251.1,990.9 L252.5,977.8 L253.8,958.6 L254.9,981.7 L256.0,1009.8 L257.3,994.8 L258.7,972.0 L260.0,989.7 L261.4,1015.2 L262.7,1000.1 L264.1,980.1 L265.4,967.1 L266.8,965.6 L268.1,953.2 L269.3,978.0 L270.4,1012.3 L271.6,1034.0 L273.2,992.4 L274.9,955.9 L276.2,993.1 L277.5,1025.9 L278.9,1001.0 L280.2,980.1 L281.6,992.3 L282.9,991.3 L284.3,1004.4 L285.6,1007.2 L287.0,997.6 L288.3,999.0 L289.4,1030.0 L290.5,1055.6 L291.8,1032.3 L293.2,1012.5 L294.8,1020.6 L296.4,1020.6 L298.0,1038.3 L299.6,1063.7 L301.0,1045.1 L302.3,1020.6 L303.5,1024.5 L304.7,1040.1 L305.8,1044.8 L307.0,1040.5 L308.2,1051.1 L309.4,1047.5 L310.6,1052.1 L311.9,1067.0 L313.1,1069.1 L314.3,1054.7 L315.5,1047.6 L316.6,1031.3 L318.0,1044.3 L319.3,1063.7 L320.7,1055.5 L322.0,1042.1 L323.2,1042.9 L324.4,1052.2 L325.5,1050.2 L327.1,1071.4 L328.8,1096.0 L330.4,1086.3 L332.0,1069.1 L333.3,1071.9 L334.7,1085.2 L335.9,1078.5 L337.0,1064.9 L338.2,1058.3 L339.4,1068.6 L340.5,1067.3 L341.7,1077.2 L343.0,1101.5 L344.4,1117.6 L345.3,1122.2 L346.3,1136.5 L347.6,1128.9 L349.0,1113.8 L350.3,1106.8 L351.7,1107.8 L353.0,1101.4 L354.4,1101.4 L355.7,1107.4 L357.1,1098.5 L358.4,1104.1 L360.0,1085.6 L361.6,1058.3 L362.8,1071.0 L364.0,1091.9 L365.1,1101.4 L366.5,1095.1 L367.8,1101.3 L369.2,1096.0 L370.5,1075.3 L371.9,1063.7 L373.2,1080.5 L374.6,1090.6 L376.2,1071.9 L377.8,1058.3 L379.0,1067.5 L380.2,1070.1 L381.3,1079.9 L382.7,1064.1 L384.0,1044.8 L385.2,1056.2 L386.4,1078.1 L387.5,1087.9 L389.1,1071.5 L390.8,1063.7 L392.1,1102.3 L393.5,1131.1 L395.1,1114.5 L396.7,1106.8 L397.9,1098.7 L399.0,1081.5 L400.2,1074.5 L401.5,1076.9 L402.9,1068.0 L404.2,1071.8 L405.6,1088.9 L406.9,1096.0 L408.3,1112.2 L409.4,1102.2 L410.6,1078.5 L411.7,1072.2 L412.9,1055.6 L414.2,1081.6 L415.6,1117.6 L416.7,1103.1 L417.9,1082.6 L419.1,1069.1 L420.4,1086.0 L421.8,1093.3 L423.1,1112.2 L424.4,1105.8 L425.8,1084.3 L427.1,1077.2 L428.3,1090.8 L429.5,1093.7 L430.6,1109.5 L432.3,1101.6 L433.9,1087.9 L435.2,1080.0 L436.6,1082.3 L437.9,1071.8 L439.1,1083.0 L440.3,1106.6 L441.4,1117.6 L443.0,1101.2 L444.7,1093.3 L446.0,1109.5 L447.4,1111.4 L448.7,1125.7 L450.1,1116.2 L451.4,1092.6 L452.7,1082.5 L454.4,1109.1 L456.0,1125.7 L457.1,1111.6 L458.1,1104.1" fill="none" stroke="#111" stroke-width="2.5" stroke-linejoin="round"/>
<path d="M488.8,1087.9 L489.9,1070.8 L490.9,1044.8 L491.9,1050.4 L492.8,1063.7 L493.8,1053.0 L494.7,1036.7 L495.8,1050.4 L496.9,1069.1 L497.9,1043.5 L499.0,1009.8 L500.0,1028.0 L500.9,1050.2 L501.9,1036.5 L502.8,1012.5 L503.9,1019.7 L505.0,1031.3 L506.3,1014.2 L507.6,993.6 L508.7,1030.6 L509.8,1071.8 L511.2,1062.2 L512.5,1042.1 L513.4,1054.0 L514.4,1071.8 L515.7,1068.6 L517.1,1061.0 L518.3,1064.6 L519.4,1073.6 L520.6,1077.2 L521.8,1071.0 L523.1,1077.7 L524.4,1071.8 L525.5,1058.4 L526.7,1058.3 L527.9,1044.8 L529.2,1049.6 L530.6,1058.3 L531.9,1064.9 L533.3,1063.7 L534.6,1079.5 L536.0,1101.4 L536.6,1055.0 L537.3,999.0 L538.6,1015.7 L540.0,1042.1 L541.2,1034.4 L542.4,1014.6 L543.6,1008.7 L544.8,990.9 L546.2,1031.6 L547.5,1082.5 L548.9,1059.5 L550.2,1025.9 L551.6,1042.7 L552.9,1063.7 L554.5,1086.3 L556.2,1104.1 L557.5,1071.0 L558.9,1042.1 L559.9,1054.7 L561.0,1063.7 L562.4,1011.6 L563.7,969.3 L565.1,1015.9 L566.4,1052.9 L567.8,1074.4 L569.1,1104.1 L570.7,1092.8 L572.3,1071.8 L574.0,1082.5 L575.6,1101.4 L576.8,1088.0 L578.0,1067.0 L579.2,1054.9 L580.4,1036.7 L581.8,1051.0 L583.1,1074.5 L584.5,1028.4 L585.8,977.4 L587.2,1023.1 L588.5,1074.5 L589.6,1056.2 L590.7,1031.3 L592.0,1045.8 L593.4,1063.7 L594.3,1058.2 L595.3,1047.5 L596.6,1029.9 L597.9,1017.9 L599.3,1049.2 L600.6,1071.8 L602.0,1052.5 L603.3,1039.4 L604.3,1062.5 L605.2,1079.9 L606.0,1048.9 L606.8,1028.6 L607.8,1021.4 L608.7,1007.1 L609.7,1014.3 L610.6,1031.3 L611.7,1069.1 L612.8,1098.7 L614.1,1070.0 L615.5,1044.8 L616.8,1073.7 L618.2,1096.0 L619.5,1087.3 L620.9,1085.2 L622.5,1076.4 L624.1,1058.3 L625.4,1086.3 L626.8,1120.3 L628.1,1115.2 L629.5,1101.4 L630.7,1104.9 L631.8,1118.3 L633.0,1123.0 L634.3,1107.2 L635.7,1103.4 L637.0,1090.6 L638.4,1102.0 L639.7,1123.0 L641.1,1115.9 L642.4,1104.1 L643.5,1113.2 L644.6,1125.7 L645.9,1121.4 L647.3,1112.2 L648.6,1099.5 L650.0,1096.0 L651.6,1112.2 L653.2,1117.6 L654.5,1103.8 L655.9,1093.3 L657.5,1110.3 L659.1,1120.3 L660.3,1113.1 L661.5,1117.8 L662.6,1109.5 L664.0,1093.7 L665.3,1086.1 L666.7,1069.1 L668.0,1060.7 L669.4,1058.3 L670.7,1073.9 L672.1,1079.9 L673.4,1077.2 L674.8,1079.9 L676.4,1097.3 L678.0,1104.1 L679.3,1106.8 L680.7,1114.9 L681.9,1112.9 L683.0,1101.6 L684.2,1101.4 L685.4,1106.8 L686.5,1102.9 L687.7,1106.8 L689.1,1085.3 L690.4,1055.6 L692.0,1077.9 L693.6,1104.1 L695.3,1102.1 L696.9,1090.6 L698.0,1096.2 L699.2,1115.1 L700.4,1120.3 L701.7,1097.3 L703.1,1085.6 L704.4,1063.7 L706.0,1086.1 L707.6,1114.9 L708.8,1101.0 L710.0,1075.7 L711.2,1063.7 L712.3,1082.7 L713.5,1092.8 L714.7,1114.9 L716.3,1105.9 L717.9,1093.3 L719.2,1103.0 L720.6,1117.6 L721.9,1097.3 L723.3,1071.8 L724.6,1086.9 L726.0,1112.2 L727.6,1094.2 L729.2,1069.1 L730.4,1085.7 L731.5,1113.7 L732.7,1128.4 L733.9,1113.2 L735.1,1106.6 L736.2,1090.6 L737.6,1101.8 L738.9,1120.3 L740.5,1096.5 L742.2,1063.7 L743.8,1076.7 L745.4,1098.7 L746.6,1082.2 L747.7,1054.4 L748.9,1036.7 L750.2,1014.0 L751.6,985.5 L752.9,998.1 L754.3,1015.2 L755.6,1029.9 L757.0,1030.7 L758.3,1044.8 L759.9,1027.8 L761.6,1001.7 L762.7,1005.7 L763.9,1017.6 L765.1,1020.6 L766.4,998.4 L767.8,985.5 L768.9,985.8 L770.1,976.2 L771.3,974.7 L772.9,1014.5 L774.5,1047.5 L775.8,1026.3 L777.2,1015.2 L778.3,1028.5 L779.3,1036.7 L781.0,1012.8 L782.6,993.6 L784.2,1020.7 L785.8,1042.1 L787.2,1017.5 L788.5,1001.7 L789.7,1016.5 L790.8,1019.2 L792.0,1031.3 L793.2,1039.9 L794.4,1041.3 L795.5,1050.2 L797.1,1028.9 L798.8,1001.7 L799.8,972.4 L800.9,950.5 L802.3,994.5 L803.6,1034.0 L804.1,997.4 L804.7,966.6 L805.8,1010.8 L806.8,1050.2 L807.9,1016.5 L809.0,993.6 L810.6,1008.8 L812.2,1015.2 L813.3,1042.8 L814.4,1074.5 L816.0,1067.7 L817.6,1050.2 L819.0,1044.1 L820.3,1042.1 L821.9,1038.5 L823.6,1028.6 L824.7,1033.1 L825.9,1053.1 L827.1,1058.3 L828.2,1042.1 L829.4,1038.3 L830.6,1023.2 L831.8,1035.2 L833.1,1056.1 L834.3,1066.4 L835.5,1050.8 L836.7,1041.9 L837.8,1025.9 L839.2,1039.0 L840.5,1060.1 L841.9,1074.5 L843.5,1059.1 L845.1,1050.2 L846.3,1065.7 L847.5,1067.4 L848.6,1082.5 L850.0,1070.0 L851.3,1050.2 L852.7,1054.2 L854.0,1069.8 L855.4,1074.5 L856.7,1059.7 L858.1,1053.3 L859.4,1036.7 L860.6,1046.1 L861.7,1066.4 L862.9,1074.5 L864.1,1056.5 L865.2,1052.2 L866.3,1032.2 L867.5,1023.2" fill="none" stroke="#111" stroke-width="2.5" stroke-linejoin="round"/>
<path d="M79,59.5 V315 H461" fill="none" stroke="#000" stroke-width="2"/>
<line x1="76" y1="315.0" x2="79" y2="315.0" stroke="#000" stroke-width="2"/>
<line x1="76" y1="251.2" x2="79" y2="251.2" stroke="#000" stroke-width="2"/>
<line x1="76" y1="187.5" x2="79" y2="187.5" stroke="#000" stroke-width="2"/>
<line x1="76" y1="123.8" x2="79" y2="123.8" stroke="#000" stroke-width="2"/>
<line x1="76" y1="60.0" x2="79" y2="60.0" stroke="#000" stroke-width="2"/>
<line x1="79.0" y1="315" x2="79.0" y2="317.5" stroke="#000" stroke-width="1.5"/>
<line x1="94.9" y1="315" x2="94.9" y2="317.5" stroke="#000" stroke-width="1.5"/>
<line x1="110.8" y1="315" x2="110.8" y2="317.5" stroke="#000" stroke-width="1.5"/>
<line x1="126.8" y1="315" x2="126.8" y2="317.5" stroke="#000" stroke-width="1.5"/>
<line x1="142.7" y1="315" x2="142.7" y2="317.5" stroke="#000" stroke-width="1.5"/>
<line x1="158.6" y1="315" x2="158.6" y2="317.5" stroke="#000" stroke-width="1.5"/>
<line x1="174.5" y1="315" x2="174.5" y2="317.5" stroke="#000" stroke-width="1.5"/>
<line x1="190.4" y1="315" x2="190.4" y2="317.5" stroke="#000" stroke-width="1.5"/>
<line x1="206.3" y1="315" x2="206.3" y2="317.5" stroke="#000" stroke-width="1.5"/>
<line x1="222.2" y1="315" x2="222.2" y2="317.5" stroke="#000" stroke-width="1.5"/>
<line x1="238.2" y1="315" x2="238.2" y2="317.5" stroke="#000" stroke-width="1.5"/>
<line x1="254.1" y1="315" x2="254.1" y2="317.5" stroke="#000" stroke-width="1.5"/>
<line x1="270.0" y1="315" x2="270.0" y2="317.5" stroke="#000" stroke-width="1.5"/>
<line x1="285.9" y1="315" x2="285.9" y2="317.5" stroke="#000" stroke-width="1.5"/>
<line x1="301.8" y1="315" x2="301.8" y2="317.5" stroke="#000" stroke-width="1.5"/>
<line x1="317.8" y1="315" x2="317.8" y2="317.5" stroke="#000" stroke-width="1.5"/>
<line x1="333.7" y1="315" x2="333.7" y2="317.5" stroke="#000" stroke-width="1.5"/>
<line x1="349.6" y1="315" x2="349.6" y2="317.5" stroke="#000" stroke-width="1.5"/>
<line x1="365.5" y1="315" x2="365.5" y2="317.5" stroke="#000" stroke-width="1.5"/>
<line x1="381.4" y1="315" x2="381.4" y2="317.5" stroke="#000" stroke-width="1.5"/>
<line x1="397.3" y1="315" x2="397.3" y2="317.5" stroke="#000" stroke-width="1.5"/>
<line x1="413.2" y1="315" x2="413.2" y2="317.5" stroke="#000" stroke-width="1.5"/>
<line x1="429.2" y1="315" x2="429.2" y2="317.5" stroke="#000" stroke-width="1.5"/>
<line x1="445.1" y1="315" x2="445.1" y2="317.5" stroke="#000" stroke-width="1.5"/>
<line x1="461.0" y1="315" x2="461.0" y2="317.5" stroke="#000" stroke-width="1.5"/>
<text x="79.8" y="85.5" font-family="Liberation Sans, sans-serif" font-size="37.5" font-weight="bold" textLength="114.6" lengthAdjust="spacingAndGlyphs">L18:D6</text>
<text x="69.5" y="264.1" font-family="Liberation Sans, sans-serif" font-size="37" text-anchor="end">2</text>
<text x="69.5" y="200.3" font-family="Liberation Sans, sans-serif" font-size="37" text-anchor="end">4</text>
<text x="69.5" y="136.6" font-family="Liberation Sans, sans-serif" font-size="37" text-anchor="end">6</text>
<text x="69.5" y="72.8" font-family="Liberation Sans, sans-serif" font-size="37" text-anchor="end">8</text>
<path d="M487,59.5 V315 H868" fill="none" stroke="#000" stroke-width="2"/>
<line x1="484" y1="315.0" x2="487" y2="315.0" stroke="#000" stroke-width="2"/>
<line x1="484" y1="251.2" x2="487" y2="251.2" stroke="#000" stroke-width="2"/>
<line x1="484" y1="187.5" x2="487" y2="187.5" stroke="#000" stroke-width="2"/>
<line x1="484" y1="123.8" x2="487" y2="123.8" stroke="#000" stroke-width="2"/>
<line x1="484" y1="60.0" x2="487" y2="60.0" stroke="#000" stroke-width="2"/>
<line x1="487.0" y1="315" x2="487.0" y2="317.5" stroke="#000" stroke-width="1.5"/>
<line x1="502.9" y1="315" x2="502.9" y2="317.5" stroke="#000" stroke-width="1.5"/>
<line x1="518.8" y1="315" x2="518.8" y2="317.5" stroke="#000" stroke-width="1.5"/>
<line x1="534.6" y1="315" x2="534.6" y2="317.5" stroke="#000" stroke-width="1.5"/>
<line x1="550.5" y1="315" x2="550.5" y2="317.5" stroke="#000" stroke-width="1.5"/>
<line x1="566.4" y1="315" x2="566.4" y2="317.5" stroke="#000" stroke-width="1.5"/>
<line x1="582.2" y1="315" x2="582.2" y2="317.5" stroke="#000" stroke-width="1.5"/>
<line x1="598.1" y1="315" x2="598.1" y2="317.5" stroke="#000" stroke-width="1.5"/>
<line x1="614.0" y1="315" x2="614.0" y2="317.5" stroke="#000" stroke-width="1.5"/>
<line x1="629.9" y1="315" x2="629.9" y2="317.5" stroke="#000" stroke-width="1.5"/>
<line x1="645.8" y1="315" x2="645.8" y2="317.5" stroke="#000" stroke-width="1.5"/>
<line x1="661.6" y1="315" x2="661.6" y2="317.5" stroke="#000" stroke-width="1.5"/>
<line x1="677.5" y1="315" x2="677.5" y2="317.5" stroke="#000" stroke-width="1.5"/>
<line x1="693.4" y1="315" x2="693.4" y2="317.5" stroke="#000" stroke-width="1.5"/>
<line x1="709.2" y1="315" x2="709.2" y2="317.5" stroke="#000" stroke-width="1.5"/>
<line x1="725.1" y1="315" x2="725.1" y2="317.5" stroke="#000" stroke-width="1.5"/>
<line x1="741.0" y1="315" x2="741.0" y2="317.5" stroke="#000" stroke-width="1.5"/>
<line x1="756.9" y1="315" x2="756.9" y2="317.5" stroke="#000" stroke-width="1.5"/>
<line x1="772.8" y1="315" x2="772.8" y2="317.5" stroke="#000" stroke-width="1.5"/>
<line x1="788.6" y1="315" x2="788.6" y2="317.5" stroke="#000" stroke-width="1.5"/>
<line x1="804.5" y1="315" x2="804.5" y2="317.5" stroke="#000" stroke-width="1.5"/>
<line x1="820.4" y1="315" x2="820.4" y2="317.5" stroke="#000" stroke-width="1.5"/>
<line x1="836.2" y1="315" x2="836.2" y2="317.5" stroke="#000" stroke-width="1.5"/>
<line x1="852.1" y1="315" x2="852.1" y2="317.5" stroke="#000" stroke-width="1.5"/>
<line x1="868.0" y1="315" x2="868.0" y2="317.5" stroke="#000" stroke-width="1.5"/>
<text x="487.8" y="85.5" font-family="Liberation Sans, sans-serif" font-size="37.5" font-weight="bold" textLength="114.6" lengthAdjust="spacingAndGlyphs">L18:D6</text>
<text transform="translate(30.9,274.0) rotate(-90)" x="0" y="0" font-family="Liberation Sans, sans-serif" font-size="37" textLength="193" lengthAdjust="spacingAndGlyphs">counts/min</text>
<path d="M79,334.0 V590 H461" fill="none" stroke="#000" stroke-width="2"/>
<line x1="76" y1="590.0" x2="79" y2="590.0" stroke="#000" stroke-width="2"/>
<line x1="76" y1="526.1" x2="79" y2="526.1" stroke="#000" stroke-width="2"/>
<line x1="76" y1="462.2" x2="79" y2="462.2" stroke="#000" stroke-width="2"/>
<line x1="76" y1="398.4" x2="79" y2="398.4" stroke="#000" stroke-width="2"/>
<line x1="76" y1="334.5" x2="79" y2="334.5" stroke="#000" stroke-width="2"/>
<line x1="79.0" y1="590" x2="79.0" y2="592.5" stroke="#000" stroke-width="1.5"/>
<line x1="94.9" y1="590" x2="94.9" y2="592.5" stroke="#000" stroke-width="1.5"/>
<line x1="110.8" y1="590" x2="110.8" y2="592.5" stroke="#000" stroke-width="1.5"/>
<line x1="126.8" y1="590" x2="126.8" y2="592.5" stroke="#000" stroke-width="1.5"/>
<line x1="142.7" y1="590" x2="142.7" y2="592.5" stroke="#000" stroke-width="1.5"/>
<line x1="158.6" y1="590" x2="158.6" y2="592.5" stroke="#000" stroke-width="1.5"/>
<line x1="174.5" y1="590" x2="174.5" y2="592.5" stroke="#000" stroke-width="1.5"/>
<line x1="190.4" y1="590" x2="190.4" y2="592.5" stroke="#000" stroke-width="1.5"/>
<line x1="206.3" y1="590" x2="206.3" y2="592.5" stroke="#000" stroke-width="1.5"/>
<line x1="222.2" y1="590" x2="222.2" y2="592.5" stroke="#000" stroke-width="1.5"/>
<line x1="238.2" y1="590" x2="238.2" y2="592.5" stroke="#000" stroke-width="1.5"/>
<line x1="254.1" y1="590" x2="254.1" y2="592.5" stroke="#000" stroke-width="1.5"/>
<line x1="270.0" y1="590" x2="270.0" y2="592.5" stroke="#000" stroke-width="1.5"/>
<line x1="285.9" y1="590" x2="285.9" y2="592.5" stroke="#000" stroke-width="1.5"/>
<line x1="301.8" y1="590" x2="301.8" y2="592.5" stroke="#000" stroke-width="1.5"/>
<line x1="317.8" y1="590" x2="317.8" y2="592.5" stroke="#000" stroke-width="1.5"/>
<line x1="333.7" y1="590" x2="333.7" y2="592.5" stroke="#000" stroke-width="1.5"/>
<line x1="349.6" y1="590" x2="349.6" y2="592.5" stroke="#000" stroke-width="1.5"/>
<line x1="365.5" y1="590" x2="365.5" y2="592.5" stroke="#000" stroke-width="1.5"/>
<line x1="381.4" y1="590" x2="381.4" y2="592.5" stroke="#000" stroke-width="1.5"/>
<line x1="397.3" y1="590" x2="397.3" y2="592.5" stroke="#000" stroke-width="1.5"/>
<line x1="413.2" y1="590" x2="413.2" y2="592.5" stroke="#000" stroke-width="1.5"/>
<line x1="429.2" y1="590" x2="429.2" y2="592.5" stroke="#000" stroke-width="1.5"/>
<line x1="445.1" y1="590" x2="445.1" y2="592.5" stroke="#000" stroke-width="1.5"/>
<line x1="461.0" y1="590" x2="461.0" y2="592.5" stroke="#000" stroke-width="1.5"/>
<text x="79.8" y="360.0" font-family="Liberation Sans, sans-serif" font-size="37.5" font-weight="bold" textLength="115" lengthAdjust="spacingAndGlyphs">L15:D9</text>
<text x="69.5" y="547.9" font-family="Liberation Sans, sans-serif" font-size="37" text-anchor="end">2</text>
<text x="69.5" y="475.1" font-family="Liberation Sans, sans-serif" font-size="37" text-anchor="end">4</text>
<text x="69.5" y="411.2" font-family="Liberation Sans, sans-serif" font-size="37" text-anchor="end">6</text>
<text x="69.5" y="347.3" font-family="Liberation Sans, sans-serif" font-size="37" text-anchor="end">8</text>
<path d="M487,334.0 V590 H868" fill="none" stroke="#000" stroke-width="2"/>
<line x1="484" y1="590.0" x2="487" y2="590.0" stroke="#000" stroke-width="2"/>
<line x1="484" y1="526.1" x2="487" y2="526.1" stroke="#000" stroke-width="2"/>
<line x1="484" y1="462.2" x2="487" y2="462.2" stroke="#000" stroke-width="2"/>
<line x1="484" y1="398.4" x2="487" y2="398.4" stroke="#000" stroke-width="2"/>
<line x1="484" y1="334.5" x2="487" y2="334.5" stroke="#000" stroke-width="2"/>
<line x1="487.0" y1="590" x2="487.0" y2="592.5" stroke="#000" stroke-width="1.5"/>
<line x1="502.9" y1="590" x2="502.9" y2="592.5" stroke="#000" stroke-width="1.5"/>
<line x1="518.8" y1="590" x2="518.8" y2="592.5" stroke="#000" stroke-width="1.5"/>
<line x1="534.6" y1="590" x2="534.6" y2="592.5" stroke="#000" stroke-width="1.5"/>
<line x1="550.5" y1="590" x2="550.5" y2="592.5" stroke="#000" stroke-width="1.5"/>
<line x1="566.4" y1="590" x2="566.4" y2="592.5" stroke="#000" stroke-width="1.5"/>
<line x1="582.2" y1="590" x2="582.2" y2="592.5" stroke="#000" stroke-width="1.5"/>
<line x1="598.1" y1="590" x2="598.1" y2="592.5" stroke="#000" stroke-width="1.5"/>
<line x1="614.0" y1="590" x2="614.0" y2="592.5" stroke="#000" stroke-width="1.5"/>
<line x1="629.9" y1="590" x2="629.9" y2="592.5" stroke="#000" stroke-width="1.5"/>
<line x1="645.8" y1="590" x2="645.8" y2="592.5" stroke="#000" stroke-width="1.5"/>
<line x1="661.6" y1="590" x2="661.6" y2="592.5" stroke="#000" stroke-width="1.5"/>
<line x1="677.5" y1="590" x2="677.5" y2="592.5" stroke="#000" stroke-width="1.5"/>
<line x1="693.4" y1="590" x2="693.4" y2="592.5" stroke="#000" stroke-width="1.5"/>
<line x1="709.2" y1="590" x2="709.2" y2="592.5" stroke="#000" stroke-width="1.5"/>
<line x1="725.1" y1="590" x2="725.1" y2="592.5" stroke="#000" stroke-width="1.5"/>
<line x1="741.0" y1="590" x2="741.0" y2="592.5" stroke="#000" stroke-width="1.5"/>
<line x1="756.9" y1="590" x2="756.9" y2="592.5" stroke="#000" stroke-width="1.5"/>
<line x1="772.8" y1="590" x2="772.8" y2="592.5" stroke="#000" stroke-width="1.5"/>
<line x1="788.6" y1="590" x2="788.6" y2="592.5" stroke="#000" stroke-width="1.5"/>
<line x1="804.5" y1="590" x2="804.5" y2="592.5" stroke="#000" stroke-width="1.5"/>
<line x1="820.4" y1="590" x2="820.4" y2="592.5" stroke="#000" stroke-width="1.5"/>
<line x1="836.2" y1="590" x2="836.2" y2="592.5" stroke="#000" stroke-width="1.5"/>
<line x1="852.1" y1="590" x2="852.1" y2="592.5" stroke="#000" stroke-width="1.5"/>
<line x1="868.0" y1="590" x2="868.0" y2="592.5" stroke="#000" stroke-width="1.5"/>
<text x="487.8" y="360.0" font-family="Liberation Sans, sans-serif" font-size="37.5" font-weight="bold" textLength="115" lengthAdjust="spacingAndGlyphs">L15:D9</text>
<text transform="translate(30.9,548.5) rotate(-90)" x="0" y="0" font-family="Liberation Sans, sans-serif" font-size="37" textLength="193" lengthAdjust="spacingAndGlyphs">counts/min</text>
<path d="M79,610.5 V866 H461" fill="none" stroke="#000" stroke-width="2"/>
<line x1="76" y1="866.0" x2="79" y2="866.0" stroke="#000" stroke-width="2"/>
<line x1="76" y1="802.2" x2="79" y2="802.2" stroke="#000" stroke-width="2"/>
<line x1="76" y1="738.5" x2="79" y2="738.5" stroke="#000" stroke-width="2"/>
<line x1="76" y1="674.8" x2="79" y2="674.8" stroke="#000" stroke-width="2"/>
<line x1="76" y1="611.0" x2="79" y2="611.0" stroke="#000" stroke-width="2"/>
<line x1="79.0" y1="866" x2="79.0" y2="868.5" stroke="#000" stroke-width="1.5"/>
<line x1="94.9" y1="866" x2="94.9" y2="868.5" stroke="#000" stroke-width="1.5"/>
<line x1="110.8" y1="866" x2="110.8" y2="868.5" stroke="#000" stroke-width="1.5"/>
<line x1="126.8" y1="866" x2="126.8" y2="868.5" stroke="#000" stroke-width="1.5"/>
<line x1="142.7" y1="866" x2="142.7" y2="868.5" stroke="#000" stroke-width="1.5"/>
<line x1="158.6" y1="866" x2="158.6" y2="868.5" stroke="#000" stroke-width="1.5"/>
<line x1="174.5" y1="866" x2="174.5" y2="868.5" stroke="#000" stroke-width="1.5"/>
<line x1="190.4" y1="866" x2="190.4" y2="868.5" stroke="#000" stroke-width="1.5"/>
<line x1="206.3" y1="866" x2="206.3" y2="868.5" stroke="#000" stroke-width="1.5"/>
<line x1="222.2" y1="866" x2="222.2" y2="868.5" stroke="#000" stroke-width="1.5"/>
<line x1="238.2" y1="866" x2="238.2" y2="868.5" stroke="#000" stroke-width="1.5"/>
<line x1="254.1" y1="866" x2="254.1" y2="868.5" stroke="#000" stroke-width="1.5"/>
<line x1="270.0" y1="866" x2="270.0" y2="868.5" stroke="#000" stroke-width="1.5"/>
<line x1="285.9" y1="866" x2="285.9" y2="868.5" stroke="#000" stroke-width="1.5"/>
<line x1="301.8" y1="866" x2="301.8" y2="868.5" stroke="#000" stroke-width="1.5"/>
<line x1="317.8" y1="866" x2="317.8" y2="868.5" stroke="#000" stroke-width="1.5"/>
<line x1="333.7" y1="866" x2="333.7" y2="868.5" stroke="#000" stroke-width="1.5"/>
<line x1="349.6" y1="866" x2="349.6" y2="868.5" stroke="#000" stroke-width="1.5"/>
<line x1="365.5" y1="866" x2="365.5" y2="868.5" stroke="#000" stroke-width="1.5"/>
<line x1="381.4" y1="866" x2="381.4" y2="868.5" stroke="#000" stroke-width="1.5"/>
<line x1="397.3" y1="866" x2="397.3" y2="868.5" stroke="#000" stroke-width="1.5"/>
<line x1="413.2" y1="866" x2="413.2" y2="868.5" stroke="#000" stroke-width="1.5"/>
<line x1="429.2" y1="866" x2="429.2" y2="868.5" stroke="#000" stroke-width="1.5"/>
<line x1="445.1" y1="866" x2="445.1" y2="868.5" stroke="#000" stroke-width="1.5"/>
<line x1="461.0" y1="866" x2="461.0" y2="868.5" stroke="#000" stroke-width="1.5"/>
<text x="79.8" y="636.5" font-family="Liberation Sans, sans-serif" font-size="37.5" font-weight="bold" textLength="134.7" lengthAdjust="spacingAndGlyphs">L12:D12</text>
<text x="69.5" y="824.0" font-family="Liberation Sans, sans-serif" font-size="37" text-anchor="end">2</text>
<text x="69.5" y="751.3" font-family="Liberation Sans, sans-serif" font-size="37" text-anchor="end">4</text>
<text x="69.5" y="687.5" font-family="Liberation Sans, sans-serif" font-size="37" text-anchor="end">6</text>
<text x="69.5" y="623.8" font-family="Liberation Sans, sans-serif" font-size="37" text-anchor="end">8</text>
<path d="M487,610.5 V866 H868" fill="none" stroke="#000" stroke-width="2"/>
<line x1="484" y1="866.0" x2="487" y2="866.0" stroke="#000" stroke-width="2"/>
<line x1="484" y1="802.2" x2="487" y2="802.2" stroke="#000" stroke-width="2"/>
<line x1="484" y1="738.5" x2="487" y2="738.5" stroke="#000" stroke-width="2"/>
<line x1="484" y1="674.8" x2="487" y2="674.8" stroke="#000" stroke-width="2"/>
<line x1="484" y1="611.0" x2="487" y2="611.0" stroke="#000" stroke-width="2"/>
<line x1="487.0" y1="866" x2="487.0" y2="868.5" stroke="#000" stroke-width="1.5"/>
<line x1="502.9" y1="866" x2="502.9" y2="868.5" stroke="#000" stroke-width="1.5"/>
<line x1="518.8" y1="866" x2="518.8" y2="868.5" stroke="#000" stroke-width="1.5"/>
<line x1="534.6" y1="866" x2="534.6" y2="868.5" stroke="#000" stroke-width="1.5"/>
<line x1="550.5" y1="866" x2="550.5" y2="868.5" stroke="#000" stroke-width="1.5"/>
<line x1="566.4" y1="866" x2="566.4" y2="868.5" stroke="#000" stroke-width="1.5"/>
<line x1="582.2" y1="866" x2="582.2" y2="868.5" stroke="#000" stroke-width="1.5"/>
<line x1="598.1" y1="866" x2="598.1" y2="868.5" stroke="#000" stroke-width="1.5"/>
<line x1="614.0" y1="866" x2="614.0" y2="868.5" stroke="#000" stroke-width="1.5"/>
<line x1="629.9" y1="866" x2="629.9" y2="868.5" stroke="#000" stroke-width="1.5"/>
<line x1="645.8" y1="866" x2="645.8" y2="868.5" stroke="#000" stroke-width="1.5"/>
<line x1="661.6" y1="866" x2="661.6" y2="868.5" stroke="#000" stroke-width="1.5"/>
<line x1="677.5" y1="866" x2="677.5" y2="868.5" stroke="#000" stroke-width="1.5"/>
<line x1="693.4" y1="866" x2="693.4" y2="868.5" stroke="#000" stroke-width="1.5"/>
<line x1="709.2" y1="866" x2="709.2" y2="868.5" stroke="#000" stroke-width="1.5"/>
<line x1="725.1" y1="866" x2="725.1" y2="868.5" stroke="#000" stroke-width="1.5"/>
<line x1="741.0" y1="866" x2="741.0" y2="868.5" stroke="#000" stroke-width="1.5"/>
<line x1="756.9" y1="866" x2="756.9" y2="868.5" stroke="#000" stroke-width="1.5"/>
<line x1="772.8" y1="866" x2="772.8" y2="868.5" stroke="#000" stroke-width="1.5"/>
<line x1="788.6" y1="866" x2="788.6" y2="868.5" stroke="#000" stroke-width="1.5"/>
<line x1="804.5" y1="866" x2="804.5" y2="868.5" stroke="#000" stroke-width="1.5"/>
<line x1="820.4" y1="866" x2="820.4" y2="868.5" stroke="#000" stroke-width="1.5"/>
<line x1="836.2" y1="866" x2="836.2" y2="868.5" stroke="#000" stroke-width="1.5"/>
<line x1="852.1" y1="866" x2="852.1" y2="868.5" stroke="#000" stroke-width="1.5"/>
<line x1="868.0" y1="866" x2="868.0" y2="868.5" stroke="#000" stroke-width="1.5"/>
<text x="487.8" y="636.5" font-family="Liberation Sans, sans-serif" font-size="37.5" font-weight="bold" textLength="134.7" lengthAdjust="spacingAndGlyphs">L12:D12</text>
<text transform="translate(30.9,825.0) rotate(-90)" x="0" y="0" font-family="Liberation Sans, sans-serif" font-size="37" textLength="193" lengthAdjust="spacingAndGlyphs">counts/min</text>
<path d="M79,885.0 V1140 H461" fill="none" stroke="#000" stroke-width="2"/>
<line x1="76" y1="1140.0" x2="79" y2="1140.0" stroke="#000" stroke-width="2"/>
<line x1="76" y1="1076.4" x2="79" y2="1076.4" stroke="#000" stroke-width="2"/>
<line x1="76" y1="1012.8" x2="79" y2="1012.8" stroke="#000" stroke-width="2"/>
<line x1="76" y1="949.1" x2="79" y2="949.1" stroke="#000" stroke-width="2"/>
<line x1="76" y1="885.5" x2="79" y2="885.5" stroke="#000" stroke-width="2"/>
<line x1="79.0" y1="1140" x2="79.0" y2="1142.5" stroke="#000" stroke-width="1.5"/>
<line x1="94.9" y1="1140" x2="94.9" y2="1142.5" stroke="#000" stroke-width="1.5"/>
<line x1="110.8" y1="1140" x2="110.8" y2="1142.5" stroke="#000" stroke-width="1.5"/>
<line x1="126.8" y1="1140" x2="126.8" y2="1142.5" stroke="#000" stroke-width="1.5"/>
<line x1="142.7" y1="1140" x2="142.7" y2="1142.5" stroke="#000" stroke-width="1.5"/>
<line x1="158.6" y1="1140" x2="158.6" y2="1142.5" stroke="#000" stroke-width="1.5"/>
<line x1="174.5" y1="1140" x2="174.5" y2="1142.5" stroke="#000" stroke-width="1.5"/>
<line x1="190.4" y1="1140" x2="190.4" y2="1142.5" stroke="#000" stroke-width="1.5"/>
<line x1="206.3" y1="1140" x2="206.3" y2="1142.5" stroke="#000" stroke-width="1.5"/>
<line x1="222.2" y1="1140" x2="222.2" y2="1142.5" stroke="#000" stroke-width="1.5"/>
<line x1="238.2" y1="1140" x2="238.2" y2="1142.5" stroke="#000" stroke-width="1.5"/>
<line x1="254.1" y1="1140" x2="254.1" y2="1142.5" stroke="#000" stroke-width="1.5"/>
<line x1="270.0" y1="1140" x2="270.0" y2="1142.5" stroke="#000" stroke-width="1.5"/>
<line x1="285.9" y1="1140" x2="285.9" y2="1142.5" stroke="#000" stroke-width="1.5"/>
<line x1="301.8" y1="1140" x2="301.8" y2="1142.5" stroke="#000" stroke-width="1.5"/>
<line x1="317.8" y1="1140" x2="317.8" y2="1142.5" stroke="#000" stroke-width="1.5"/>
<line x1="333.7" y1="1140" x2="333.7" y2="1142.5" stroke="#000" stroke-width="1.5"/>
<line x1="349.6" y1="1140" x2="349.6" y2="1142.5" stroke="#000" stroke-width="1.5"/>
<line x1="365.5" y1="1140" x2="365.5" y2="1142.5" stroke="#000" stroke-width="1.5"/>
<line x1="381.4" y1="1140" x2="381.4" y2="1142.5" stroke="#000" stroke-width="1.5"/>
<line x1="397.3" y1="1140" x2="397.3" y2="1142.5" stroke="#000" stroke-width="1.5"/>
<line x1="413.2" y1="1140" x2="413.2" y2="1142.5" stroke="#000" stroke-width="1.5"/>
<line x1="429.2" y1="1140" x2="429.2" y2="1142.5" stroke="#000" stroke-width="1.5"/>
<line x1="445.1" y1="1140" x2="445.1" y2="1142.5" stroke="#000" stroke-width="1.5"/>
<line x1="461.0" y1="1140" x2="461.0" y2="1142.5" stroke="#000" stroke-width="1.5"/>
<text x="79.8" y="911.0" font-family="Liberation Sans, sans-serif" font-size="37.5" font-weight="bold" textLength="113.5" lengthAdjust="spacingAndGlyphs">L9:D15</text>
<text x="69.5" y="1098.2" font-family="Liberation Sans, sans-serif" font-size="37" text-anchor="end">2</text>
<text x="69.5" y="1025.5" font-family="Liberation Sans, sans-serif" font-size="37" text-anchor="end">4</text>
<text x="69.5" y="961.9" font-family="Liberation Sans, sans-serif" font-size="37" text-anchor="end">6</text>
<text x="69.5" y="898.3" font-family="Liberation Sans, sans-serif" font-size="37" text-anchor="end">8</text>
<path d="M487,885.0 V1140 H868" fill="none" stroke="#000" stroke-width="2"/>
<line x1="484" y1="1140.0" x2="487" y2="1140.0" stroke="#000" stroke-width="2"/>
<line x1="484" y1="1076.4" x2="487" y2="1076.4" stroke="#000" stroke-width="2"/>
<line x1="484" y1="1012.8" x2="487" y2="1012.8" stroke="#000" stroke-width="2"/>
<line x1="484" y1="949.1" x2="487" y2="949.1" stroke="#000" stroke-width="2"/>
<line x1="484" y1="885.5" x2="487" y2="885.5" stroke="#000" stroke-width="2"/>
<line x1="487.0" y1="1140" x2="487.0" y2="1142.5" stroke="#000" stroke-width="1.5"/>
<line x1="502.9" y1="1140" x2="502.9" y2="1142.5" stroke="#000" stroke-width="1.5"/>
<line x1="518.8" y1="1140" x2="518.8" y2="1142.5" stroke="#000" stroke-width="1.5"/>
<line x1="534.6" y1="1140" x2="534.6" y2="1142.5" stroke="#000" stroke-width="1.5"/>
<line x1="550.5" y1="1140" x2="550.5" y2="1142.5" stroke="#000" stroke-width="1.5"/>
<line x1="566.4" y1="1140" x2="566.4" y2="1142.5" stroke="#000" stroke-width="1.5"/>
<line x1="582.2" y1="1140" x2="582.2" y2="1142.5" stroke="#000" stroke-width="1.5"/>
<line x1="598.1" y1="1140" x2="598.1" y2="1142.5" stroke="#000" stroke-width="1.5"/>
<line x1="614.0" y1="1140" x2="614.0" y2="1142.5" stroke="#000" stroke-width="1.5"/>
<line x1="629.9" y1="1140" x2="629.9" y2="1142.5" stroke="#000" stroke-width="1.5"/>
<line x1="645.8" y1="1140" x2="645.8" y2="1142.5" stroke="#000" stroke-width="1.5"/>
<line x1="661.6" y1="1140" x2="661.6" y2="1142.5" stroke="#000" stroke-width="1.5"/>
<line x1="677.5" y1="1140" x2="677.5" y2="1142.5" stroke="#000" stroke-width="1.5"/>
<line x1="693.4" y1="1140" x2="693.4" y2="1142.5" stroke="#000" stroke-width="1.5"/>
<line x1="709.2" y1="1140" x2="709.2" y2="1142.5" stroke="#000" stroke-width="1.5"/>
<line x1="725.1" y1="1140" x2="725.1" y2="1142.5" stroke="#000" stroke-width="1.5"/>
<line x1="741.0" y1="1140" x2="741.0" y2="1142.5" stroke="#000" stroke-width="1.5"/>
<line x1="756.9" y1="1140" x2="756.9" y2="1142.5" stroke="#000" stroke-width="1.5"/>
<line x1="772.8" y1="1140" x2="772.8" y2="1142.5" stroke="#000" stroke-width="1.5"/>
<line x1="788.6" y1="1140" x2="788.6" y2="1142.5" stroke="#000" stroke-width="1.5"/>
<line x1="804.5" y1="1140" x2="804.5" y2="1142.5" stroke="#000" stroke-width="1.5"/>
<line x1="820.4" y1="1140" x2="820.4" y2="1142.5" stroke="#000" stroke-width="1.5"/>
<line x1="836.2" y1="1140" x2="836.2" y2="1142.5" stroke="#000" stroke-width="1.5"/>
<line x1="852.1" y1="1140" x2="852.1" y2="1142.5" stroke="#000" stroke-width="1.5"/>
<line x1="868.0" y1="1140" x2="868.0" y2="1142.5" stroke="#000" stroke-width="1.5"/>
<text x="487.8" y="911.0" font-family="Liberation Sans, sans-serif" font-size="37.5" font-weight="bold" textLength="113.5" lengthAdjust="spacingAndGlyphs">L9:D15</text>
<text transform="translate(30.9,1099.5) rotate(-90)" x="0" y="0" font-family="Liberation Sans, sans-serif" font-size="37" textLength="193" lengthAdjust="spacingAndGlyphs">counts/min</text>
<text x="2.0" y="32.3" font-family="Liberation Sans, sans-serif" font-size="43.5" font-weight="bold">A</text>
<text x="222.5" y="1175.6" font-family="Liberation Sans, sans-serif" font-size="39" textLength="95" lengthAdjust="spacingAndGlyphs">ZT [h]</text>
<text x="631.0" y="1172.4" font-family="Liberation Sans, sans-serif" font-size="39" textLength="94.5" lengthAdjust="spacingAndGlyphs">ZT [h]</text>
<text x="245.0" y="1236.0" font-family="Liberation Sans, sans-serif" font-size="45" font-weight="bold" textLength="67" lengthAdjust="spacingAndGlyphs">WT</text>
<text x="612" y="1236.4" font-family="Liberation Sans, sans-serif" font-size="44.5" font-weight="bold" font-style="italic" textLength="68" lengthAdjust="spacingAndGlyphs">pdf</text>
<text x="684" y="1216.4" font-family="Liberation Sans, sans-serif" font-size="37" font-weight="bold" font-style="italic" textLength="80" lengthAdjust="spacingAndGlyphs">04-/-</text>

<text x="898.5" y="32.0" font-family="Liberation Sans, sans-serif" font-size="37" font-weight="bold" textLength="28" lengthAdjust="spacingAndGlyphs">B</text>
<rect x="999.6" y="201.6" width="34.2" height="10.4" fill="white" stroke="#000" stroke-width="2"/>
<line x1="1016.7" y1="199.2" x2="1016.7" y2="225.2" stroke="#000" stroke-width="3"/>
<rect x="1052.8" y="162.0" width="34.2" height="39.6" fill="url(#chk)" stroke="#000" stroke-width="2"/>
<line x1="1069.9" y1="130.9" x2="1069.9" y2="192.2" stroke="#000" stroke-width="3"/>
<rect x="1105" y="185.6" width="34.5" height="16.0" fill="white" stroke="#000" stroke-width="2"/>
<line x1="1122.2" y1="172.4" x2="1122.2" y2="201.6" stroke="#000" stroke-width="3"/>
<rect x="1158.5" y="107.4" width="33.8" height="94.2" fill="url(#chk)" stroke="#000" stroke-width="2"/>
<line x1="1175.4" y1="95.6" x2="1175.4" y2="118.2" stroke="#000" stroke-width="3"/>
<rect x="1211" y="183.2" width="34.6" height="18.4" fill="#000" stroke="#000" stroke-width="2"/>
<line x1="1228.3" y1="172.4" x2="1228.3" y2="187.5" stroke="#000" stroke-width="3"/>
<rect x="1264.2" y="150.7" width="34.3" height="50.9" fill="url(#fine)" stroke="#000" stroke-width="2"/>
<line x1="1281.3" y1="134.7" x2="1281.3" y2="167.2" stroke="#000" stroke-width="3"/>
<rect x="1316.8" y="191.2" width="34.8" height="10.4" fill="#000" stroke="#000" stroke-width="2"/>
<line x1="1334.2" y1="170.0" x2="1334.2" y2="212.4" stroke="#000" stroke-width="3"/>
<rect x="1370.2" y="201.6" width="33.8" height="75.4" fill="url(#fine)" stroke="#000" stroke-width="2"/>
<line x1="1387.1" y1="247.8" x2="1387.1" y2="305.2" stroke="#000" stroke-width="3"/>
<path d="M990.4,59.3 V343 H1415" fill="none" stroke="#000" stroke-width="2.5"/>
<line x1="990.4" y1="201.6" x2="1413" y2="201.6" stroke="#000" stroke-width="2.5"/>
<line x1="1201.8" y1="56.6" x2="1201.8" y2="343" stroke="#000" stroke-width="3"/>
<line x1="986.4" y1="342.9" x2="990.4" y2="342.9" stroke="#000" stroke-width="2"/>
<text x="980.5" y="356.1" font-family="Liberation Sans, sans-serif" font-size="39" textLength="34" lengthAdjust="spacingAndGlyphs" text-anchor="end">-3</text>
<line x1="986.4" y1="295.8" x2="990.4" y2="295.8" stroke="#000" stroke-width="2"/>
<text x="980.5" y="309.0" font-family="Liberation Sans, sans-serif" font-size="39" textLength="34" lengthAdjust="spacingAndGlyphs" text-anchor="end">-2</text>
<line x1="986.4" y1="248.7" x2="990.4" y2="248.7" stroke="#000" stroke-width="2"/>
<text x="980.5" y="261.9" font-family="Liberation Sans, sans-serif" font-size="39" textLength="34" lengthAdjust="spacingAndGlyphs" text-anchor="end">-1</text>
<line x1="986.4" y1="201.6" x2="990.4" y2="201.6" stroke="#000" stroke-width="2"/>
<text x="980.5" y="214.8" font-family="Liberation Sans, sans-serif" font-size="39" textLength="19.5" lengthAdjust="spacingAndGlyphs" text-anchor="end">0</text>
<line x1="986.4" y1="154.5" x2="990.4" y2="154.5" stroke="#000" stroke-width="2"/>
<text x="980.5" y="167.7" font-family="Liberation Sans, sans-serif" font-size="39" textLength="19.5" lengthAdjust="spacingAndGlyphs" text-anchor="end">1</text>
<line x1="986.4" y1="107.4" x2="990.4" y2="107.4" stroke="#000" stroke-width="2"/>
<text x="980.5" y="120.6" font-family="Liberation Sans, sans-serif" font-size="39" textLength="19.5" lengthAdjust="spacingAndGlyphs" text-anchor="end">2</text>
<line x1="986.4" y1="60.3" x2="990.4" y2="60.3" stroke="#000" stroke-width="2"/>
<text x="980.5" y="73.5" font-family="Liberation Sans, sans-serif" font-size="39" textLength="19.5" lengthAdjust="spacingAndGlyphs" text-anchor="end">3</text>
<line x1="1016.7" y1="343" x2="1016.7" y2="346.5" stroke="#000" stroke-width="2"/>
<line x1="1070" y1="343" x2="1070" y2="346.5" stroke="#000" stroke-width="2"/>
<line x1="1122.5" y1="343" x2="1122.5" y2="346.5" stroke="#000" stroke-width="2"/>
<line x1="1175.8" y1="343" x2="1175.8" y2="346.5" stroke="#000" stroke-width="2"/>
<line x1="1228.3" y1="343" x2="1228.3" y2="346.5" stroke="#000" stroke-width="2"/>
<line x1="1282" y1="343" x2="1282" y2="346.5" stroke="#000" stroke-width="2"/>
<line x1="1334.5" y1="343" x2="1334.5" y2="346.5" stroke="#000" stroke-width="2"/>
<line x1="1387" y1="343" x2="1387" y2="346.5" stroke="#000" stroke-width="2"/>
<text x="1016.7" y="364.0" font-family="Liberation Sans, sans-serif" font-size="22" font-weight="bold" text-anchor="middle">-</text>
<text x="1071.0" y="365.5" font-family="Liberation Sans, sans-serif" font-size="23" font-weight="bold" text-anchor="middle">+</text>
<text x="1122.5" y="364.0" font-family="Liberation Sans, sans-serif" font-size="22" font-weight="bold" text-anchor="middle">-</text>
<text x="1176.8" y="365.5" font-family="Liberation Sans, sans-serif" font-size="23" font-weight="bold" text-anchor="middle">+</text>
<text x="1228.3" y="364.0" font-family="Liberation Sans, sans-serif" font-size="22" font-weight="bold" text-anchor="middle">-</text>
<text x="1283.0" y="365.5" font-family="Liberation Sans, sans-serif" font-size="23" font-weight="bold" text-anchor="middle">+</text>
<text x="1334.5" y="364.0" font-family="Liberation Sans, sans-serif" font-size="22" font-weight="bold" text-anchor="middle">-</text>
<text x="1388.0" y="365.5" font-family="Liberation Sans, sans-serif" font-size="23" font-weight="bold" text-anchor="middle">+</text>
<text x="1028.0" y="399.0" font-family="Liberation Sans, sans-serif" font-size="22.5" font-weight="bold" textLength="36" lengthAdjust="spacingAndGlyphs">WT</text>
<text x="1239.0" y="399.0" font-family="Liberation Sans, sans-serif" font-size="22.5" font-weight="bold" textLength="36" lengthAdjust="spacingAndGlyphs">WT</text>
<text x="1109.5" y="397.6" font-family="Liberation Sans, sans-serif" font-size="24.5" font-weight="bold" font-style="italic" textLength="38" lengthAdjust="spacingAndGlyphs">pdf</text>
<text x="1149.0" y="385.1" font-family="Liberation Sans, sans-serif" font-size="25" font-weight="bold" font-style="italic" textLength="53" lengthAdjust="spacingAndGlyphs">04-/-</text>
<text x="1321" y="397.6" font-family="Liberation Sans, sans-serif" font-size="24.5" font-weight="bold" font-style="italic" textLength="38" lengthAdjust="spacingAndGlyphs">pdf</text>
<text x="1360.5" y="385.1" font-family="Liberation Sans, sans-serif" font-size="25" font-weight="bold" font-style="italic" textLength="53" lengthAdjust="spacingAndGlyphs">04-/-</text>
<text x="992.0" y="84.0" font-family="Liberation Sans, sans-serif" font-size="31" font-weight="bold" textLength="57" lengthAdjust="spacingAndGlyphs">ZT8</text>
<text x="992.0" y="107.0" font-family="Liberation Sans, sans-serif" font-size="24" font-weight="bold" textLength="114" lengthAdjust="spacingAndGlyphs">dark pulse</text>
<text x="1206.0" y="81.7" font-family="Liberation Sans, sans-serif" font-size="35" font-weight="bold" textLength="78" lengthAdjust="spacingAndGlyphs">ZT20</text>
<text x="1206.0" y="107.0" font-family="Liberation Sans, sans-serif" font-size="24" font-weight="bold" textLength="112" lengthAdjust="spacingAndGlyphs">light pulse</text>
<path d="M1125.4,110 V73.4 H1175.3 V92.3" fill="none" stroke="#000" stroke-width="3"/>
<path d="M1130.75,60.60 L1130.75,70.20 M1126.59,63.00 L1134.91,67.80 M1134.91,63.00 L1126.59,67.80" stroke="#000" stroke-width="2.2" stroke-linecap="round" fill="none"/>
<path d="M1143.90,60.60 L1143.90,70.20 M1139.74,63.00 L1148.06,67.80 M1148.06,63.00 L1139.74,67.80" stroke="#000" stroke-width="2.2" stroke-linecap="round" fill="none"/>
<path d="M1157.05,60.60 L1157.05,70.20 M1152.89,63.00 L1161.21,67.80 M1161.21,63.00 L1152.89,67.80" stroke="#000" stroke-width="2.2" stroke-linecap="round" fill="none"/>
<path d="M1170.20,60.60 L1170.20,70.20 M1166.04,63.00 L1174.36,67.80 M1174.36,63.00 L1166.04,67.80" stroke="#000" stroke-width="2.2" stroke-linecap="round" fill="none"/>
<path d="M1333.8,164.7 V132 H1383.2 V163.2" fill="none" stroke="#000" stroke-width="3"/>
<path d="M1358.70,121.00 L1358.70,130.60 M1354.54,123.40 L1362.86,128.20 M1362.86,123.40 L1354.54,128.20" stroke="#000" stroke-width="2.2" stroke-linecap="round" fill="none"/>
<text transform="translate(942.3,308.5) rotate(-90)" font-family="Liberation Sans, sans-serif" font-size="37" textLength="228" lengthAdjust="spacingAndGlyphs">Δ counts/min</text>
<text x="898.5" y="458.6" font-family="Liberation Sans, sans-serif" font-size="40" font-weight="bold" textLength="29" lengthAdjust="spacingAndGlyphs">C</text>
<path d="M991.3,484.2 V772.3 H1422" fill="none" stroke="#000" stroke-width="2.5"/>
<line x1="1205" y1="487.4" x2="1205" y2="772.3" stroke="#000" stroke-width="3"/>
<line x1="987.3" y1="772.3" x2="991.3" y2="772.3" stroke="#000" stroke-width="2"/>
<line x1="987.3" y1="700.5" x2="991.3" y2="700.5" stroke="#000" stroke-width="2"/>
<text x="980.5" y="713.7" font-family="Liberation Sans, sans-serif" font-size="39" text-anchor="end">2</text>
<line x1="987.3" y1="628.8" x2="991.3" y2="628.8" stroke="#000" stroke-width="2"/>
<text x="980.5" y="642.0" font-family="Liberation Sans, sans-serif" font-size="39" text-anchor="end">4</text>
<line x1="987.3" y1="557.0" x2="991.3" y2="557.0" stroke="#000" stroke-width="2"/>
<text x="980.5" y="570.2" font-family="Liberation Sans, sans-serif" font-size="39" text-anchor="end">6</text>
<line x1="987.3" y1="485.2" x2="991.3" y2="485.2" stroke="#000" stroke-width="2"/>
<text x="980.5" y="498.4" font-family="Liberation Sans, sans-serif" font-size="39" text-anchor="end">8</text>
<line x1="1018" y1="772.3" x2="1018" y2="776.3" stroke="#000" stroke-width="2"/>
<text x="1018.0" y="796.5" font-family="Liberation Sans, sans-serif" font-size="24" font-weight="bold" textLength="12" lengthAdjust="spacingAndGlyphs" text-anchor="middle">L</text>
<line x1="1071.7" y1="772.3" x2="1071.7" y2="776.3" stroke="#000" stroke-width="2"/>
<text x="1071.7" y="796.5" font-family="Liberation Sans, sans-serif" font-size="24" font-weight="bold" text-anchor="middle">D</text>
<line x1="1125.2" y1="772.3" x2="1125.2" y2="776.3" stroke="#000" stroke-width="2"/>
<text x="1125.2" y="796.5" font-family="Liberation Sans, sans-serif" font-size="24" font-weight="bold" text-anchor="middle">DD</text>
<line x1="1178.9" y1="772.3" x2="1178.9" y2="776.3" stroke="#000" stroke-width="2"/>
<text x="1178.9" y="796.5" font-family="Liberation Sans, sans-serif" font-size="24" font-weight="bold" textLength="23.5" lengthAdjust="spacingAndGlyphs" text-anchor="middle">LL</text>
<line x1="1233.3" y1="772.3" x2="1233.3" y2="776.3" stroke="#000" stroke-width="2"/>
<text x="1233.3" y="796.5" font-family="Liberation Sans, sans-serif" font-size="24" font-weight="bold" textLength="12" lengthAdjust="spacingAndGlyphs" text-anchor="middle">L</text>
<line x1="1286.6" y1="772.3" x2="1286.6" y2="776.3" stroke="#000" stroke-width="2"/>
<text x="1286.6" y="796.5" font-family="Liberation Sans, sans-serif" font-size="24" font-weight="bold" text-anchor="middle">D</text>
<line x1="1340" y1="772.3" x2="1340" y2="776.3" stroke="#000" stroke-width="2"/>
<text x="1340.0" y="796.5" font-family="Liberation Sans, sans-serif" font-size="24" font-weight="bold" text-anchor="middle">DD</text>
<line x1="1394.2" y1="772.3" x2="1394.2" y2="776.3" stroke="#000" stroke-width="2"/>
<text x="1394.2" y="796.5" font-family="Liberation Sans, sans-serif" font-size="24" font-weight="bold" textLength="23.5" lengthAdjust="spacingAndGlyphs" text-anchor="middle">LL</text>
<text x="996.5" y="510.9" font-family="Liberation Sans, sans-serif" font-size="34" font-weight="bold" textLength="54" lengthAdjust="spacingAndGlyphs">WT</text>
<text x="1209" y="505.5" font-family="Liberation Sans, sans-serif" font-size="36.6" font-weight="bold" font-style="italic" textLength="56" lengthAdjust="spacingAndGlyphs">pdf</text>
<text x="1268.5" y="488.5" font-family="Liberation Sans, sans-serif" font-size="27.6" font-weight="bold" font-style="italic" textLength="59" lengthAdjust="spacingAndGlyphs">04-/-</text>
<line x1="1000.3" y1="646.5" x2="1035.8" y2="646.5" stroke="#000" stroke-width="4.5"/>
<line x1="1054.2" y1="722.4" x2="1089.7" y2="722.4" stroke="#000" stroke-width="4.5"/>
<line x1="1107.9" y1="659.7" x2="1143.4" y2="659.7" stroke="#000" stroke-width="4.5"/>
<line x1="1161" y1="711.5" x2="1197" y2="711.5" stroke="#000" stroke-width="4.5"/>
<line x1="1215.4" y1="709.5" x2="1250.6" y2="709.5" stroke="#000" stroke-width="4.5"/>
<line x1="1269.3" y1="661.3" x2="1304.8" y2="661.3" stroke="#000" stroke-width="4.5"/>
<line x1="1322.7" y1="688.4" x2="1358" y2="688.4" stroke="#000" stroke-width="4.5"/>
<line x1="1377" y1="693.6" x2="1412" y2="693.6" stroke="#000" stroke-width="4.5"/>
<g fill="#000"><circle cx="1017.8" cy="515.0" r="1.45"/><circle cx="1017.8" cy="525.8" r="1.45"/><circle cx="1014.9" cy="539.0" r="1.45"/><circle cx="1020.2" cy="539.0" r="1.45"/><circle cx="1017.8" cy="543.7" r="1.45"/><circle cx="1017.8" cy="552.0" r="1.45"/><circle cx="1017.8" cy="554.5" r="1.45"/><circle cx="1017.8" cy="603.6" r="1.45"/><circle cx="1015.2" cy="608.7" r="1.45"/><circle cx="1020.3" cy="608.7" r="1.45"/><circle cx="1017.8" cy="616.9" r="1.45"/><circle cx="1017.8" cy="619.4" r="1.45"/><circle cx="1017.8" cy="637.4" r="1.45"/><circle cx="1017.8" cy="649.6" r="1.45"/><circle cx="1015.8" cy="657.8" r="1.45"/><circle cx="1019.1" cy="657.8" r="1.45"/><circle cx="1017.8" cy="662.5" r="1.45"/><circle cx="1014.3" cy="667.5" r="1.45"/><circle cx="1020.9" cy="667.5" r="1.45"/><circle cx="1014.9" cy="672.2" r="1.45"/><circle cx="1019.5" cy="672.2" r="1.45"/><circle cx="1014.4" cy="675.8" r="1.45"/><circle cx="1017.7" cy="675.8" r="1.45"/><circle cx="1023.2" cy="675.8" r="1.45"/><circle cx="1013.1" cy="679.4" r="1.45"/><circle cx="1018.1" cy="679.4" r="1.45"/><circle cx="1021.6" cy="679.4" r="1.45"/><circle cx="1011.2" cy="684.4" r="1.45"/><circle cx="1016.4" cy="684.4" r="1.45"/><circle cx="1020.2" cy="684.4" r="1.45"/><circle cx="1025.3" cy="684.4" r="1.45"/><circle cx="1013.6" cy="688.0" r="1.45"/><circle cx="1016.8" cy="688.0" r="1.45"/><circle cx="1023.0" cy="688.0" r="1.45"/><circle cx="1015.7" cy="691.6" r="1.45"/><circle cx="1019.6" cy="691.6" r="1.45"/><circle cx="1014.4" cy="696.2" r="1.45"/><circle cx="1021.0" cy="696.2" r="1.45"/><circle cx="1015.4" cy="698.7" r="1.45"/><circle cx="1020.6" cy="698.7" r="1.45"/><circle cx="1016.4" cy="704.5" r="1.45"/><circle cx="1020.6" cy="704.5" r="1.45"/><circle cx="1071.4" cy="632.7" r="1.45"/><circle cx="1071.4" cy="643.5" r="1.45"/><circle cx="1071.4" cy="649.6" r="1.45"/><circle cx="1071.4" cy="655.3" r="1.45"/><circle cx="1071.4" cy="665.0" r="1.45"/><circle cx="1070.1" cy="688.0" r="1.45"/><circle cx="1073.4" cy="688.0" r="1.45"/><circle cx="1071.4" cy="692.6" r="1.45"/><circle cx="1071.4" cy="705.9" r="1.45"/><circle cx="1069.8" cy="714.2" r="1.45"/><circle cx="1073.6" cy="714.2" r="1.45"/><circle cx="1067.8" cy="717.8" r="1.45"/><circle cx="1072.3" cy="717.8" r="1.45"/><circle cx="1075.0" cy="717.8" r="1.45"/><circle cx="1063.6" cy="727.4" r="1.45"/><circle cx="1068.4" cy="727.4" r="1.45"/><circle cx="1074.8" cy="727.4" r="1.45"/><circle cx="1078.1" cy="727.4" r="1.45"/><circle cx="1067.1" cy="731.0" r="1.45"/><circle cx="1070.9" cy="731.0" r="1.45"/><circle cx="1076.0" cy="731.0" r="1.45"/><circle cx="1068.8" cy="734.6" r="1.45"/><circle cx="1073.3" cy="734.6" r="1.45"/><circle cx="1067.0" cy="739.6" r="1.45"/><circle cx="1071.6" cy="739.6" r="1.45"/><circle cx="1077.0" cy="739.6" r="1.45"/><circle cx="1069.5" cy="743.2" r="1.45"/><circle cx="1074.7" cy="743.2" r="1.45"/><circle cx="1067.7" cy="746.8" r="1.45"/><circle cx="1072.6" cy="746.8" r="1.45"/><circle cx="1076.4" cy="746.8" r="1.45"/><circle cx="1066.0" cy="750.4" r="1.45"/><circle cx="1072.3" cy="750.4" r="1.45"/><circle cx="1077.1" cy="750.4" r="1.45"/><circle cx="1070.1" cy="754.0" r="1.45"/><circle cx="1073.9" cy="754.0" r="1.45"/><circle cx="1069.6" cy="758.7" r="1.45"/><circle cx="1073.0" cy="758.7" r="1.45"/><circle cx="1071.4" cy="769.4" r="1.45"/><circle cx="1125.5" cy="612.2" r="1.45"/><circle cx="1125.5" cy="636.3" r="1.45"/><circle cx="1124.0" cy="644.2" r="1.45"/><circle cx="1128.0" cy="644.2" r="1.45"/><circle cx="1122.7" cy="646.3" r="1.45"/><circle cx="1126.8" cy="646.3" r="1.45"/><circle cx="1124.0" cy="650.6" r="1.45"/><circle cx="1129.0" cy="650.6" r="1.45"/><circle cx="1125.5" cy="674.3" r="1.45"/><circle cx="1125.5" cy="677.2" r="1.45"/><circle cx="1125.5" cy="682.6" r="1.45"/><circle cx="1125.5" cy="684.4" r="1.45"/><circle cx="1125.5" cy="688.3" r="1.45"/><circle cx="1125.5" cy="699.8" r="1.45"/><circle cx="1179.0" cy="658.5" r="1.45"/><circle cx="1179.0" cy="667.5" r="1.45"/><circle cx="1179.0" cy="674.7" r="1.45"/><circle cx="1179.0" cy="681.1" r="1.45"/><circle cx="1179.0" cy="695.1" r="1.45"/><circle cx="1179.0" cy="699.4" r="1.45"/><circle cx="1175.7" cy="703.0" r="1.45"/><circle cx="1182.0" cy="703.0" r="1.45"/><circle cx="1179.0" cy="705.2" r="1.45"/><circle cx="1176.5" cy="708.8" r="1.45"/><circle cx="1180.5" cy="708.8" r="1.45"/><circle cx="1171.6" cy="711.7" r="1.45"/><circle cx="1177.3" cy="711.7" r="1.45"/><circle cx="1182.2" cy="711.7" r="1.45"/><circle cx="1184.8" cy="711.7" r="1.45"/><circle cx="1177.0" cy="718.5" r="1.45"/><circle cx="1180.2" cy="718.5" r="1.45"/><circle cx="1177.2" cy="723.1" r="1.45"/><circle cx="1180.9" cy="723.1" r="1.45"/><circle cx="1179.0" cy="725.6" r="1.45"/><circle cx="1177.6" cy="733.9" r="1.45"/><circle cx="1182.5" cy="733.9" r="1.45"/><circle cx="1179.0" cy="738.6" r="1.45"/><circle cx="1179.0" cy="740.4" r="1.45"/><circle cx="1176.7" cy="743.6" r="1.45"/><circle cx="1182.5" cy="743.6" r="1.45"/><circle cx="1233.0" cy="623.0" r="1.45"/><circle cx="1233.0" cy="637.0" r="1.45"/><circle cx="1233.0" cy="639.9" r="1.45"/><circle cx="1233.0" cy="666.4" r="1.45"/><circle cx="1230.2" cy="671.1" r="1.45"/><circle cx="1234.3" cy="671.1" r="1.45"/><circle cx="1233.0" cy="685.1" r="1.45"/><circle cx="1230.9" cy="696.6" r="1.45"/><circle cx="1234.2" cy="696.6" r="1.45"/><circle cx="1233.0" cy="698.7" r="1.45"/><circle cx="1233.0" cy="702.7" r="1.45"/><circle cx="1227.7" cy="714.2" r="1.45"/><circle cx="1232.8" cy="714.2" r="1.45"/><circle cx="1237.9" cy="714.2" r="1.45"/><circle cx="1225.3" cy="716.0" r="1.45"/><circle cx="1229.6" cy="716.0" r="1.45"/><circle cx="1236.2" cy="716.0" r="1.45"/><circle cx="1239.5" cy="716.0" r="1.45"/><circle cx="1231.8" cy="717.8" r="1.45"/><circle cx="1236.3" cy="717.8" r="1.45"/><circle cx="1228.1" cy="728.5" r="1.45"/><circle cx="1232.9" cy="728.5" r="1.45"/><circle cx="1237.6" cy="728.5" r="1.45"/><circle cx="1226.4" cy="731.4" r="1.45"/><circle cx="1230.9" cy="731.4" r="1.45"/><circle cx="1235.4" cy="731.4" r="1.45"/><circle cx="1240.2" cy="731.4" r="1.45"/><circle cx="1231.8" cy="734.3" r="1.45"/><circle cx="1235.3" cy="734.3" r="1.45"/><circle cx="1230.5" cy="741.1" r="1.45"/><circle cx="1235.8" cy="741.1" r="1.45"/><circle cx="1230.1" cy="746.8" r="1.45"/><circle cx="1234.8" cy="746.8" r="1.45"/><circle cx="1233.0" cy="755.4" r="1.45"/><circle cx="1286.9" cy="543.7" r="1.45"/><circle cx="1286.9" cy="553.7" r="1.45"/><circle cx="1286.9" cy="591.8" r="1.45"/><circle cx="1286.9" cy="598.2" r="1.45"/><circle cx="1286.9" cy="612.2" r="1.45"/><circle cx="1285.7" cy="630.5" r="1.45"/><circle cx="1289.3" cy="630.5" r="1.45"/><circle cx="1286.9" cy="632.3" r="1.45"/><circle cx="1284.7" cy="639.2" r="1.45"/><circle cx="1288.0" cy="639.2" r="1.45"/><circle cx="1282.1" cy="642.0" r="1.45"/><circle cx="1287.1" cy="642.0" r="1.45"/><circle cx="1290.3" cy="642.0" r="1.45"/><circle cx="1284.9" cy="644.9" r="1.45"/><circle cx="1289.5" cy="644.9" r="1.45"/><circle cx="1286.9" cy="647.4" r="1.45"/><circle cx="1283.5" cy="654.6" r="1.45"/><circle cx="1289.5" cy="654.6" r="1.45"/><circle cx="1286.9" cy="656.7" r="1.45"/><circle cx="1282.2" cy="662.8" r="1.45"/><circle cx="1287.3" cy="662.8" r="1.45"/><circle cx="1291.1" cy="662.8" r="1.45"/><circle cx="1285.1" cy="666.1" r="1.45"/><circle cx="1289.8" cy="666.1" r="1.45"/><circle cx="1286.9" cy="671.8" r="1.45"/><circle cx="1281.2" cy="676.5" r="1.45"/><circle cx="1285.8" cy="676.5" r="1.45"/><circle cx="1291.9" cy="676.5" r="1.45"/><circle cx="1286.9" cy="678.3" r="1.45"/><circle cx="1286.9" cy="693.0" r="1.45"/><circle cx="1286.9" cy="695.1" r="1.45"/><circle cx="1286.9" cy="699.4" r="1.45"/><circle cx="1286.9" cy="704.5" r="1.45"/><circle cx="1286.9" cy="706.3" r="1.45"/><circle cx="1286.9" cy="711.3" r="1.45"/><circle cx="1286.9" cy="714.9" r="1.45"/><circle cx="1286.9" cy="726.4" r="1.45"/><circle cx="1286.9" cy="738.9" r="1.45"/><circle cx="1286.9" cy="751.5" r="1.45"/><circle cx="1340.5" cy="610.1" r="1.45"/><circle cx="1340.5" cy="654.2" r="1.45"/><circle cx="1339.3" cy="656.0" r="1.45"/><circle cx="1342.2" cy="656.0" r="1.45"/><circle cx="1340.5" cy="658.2" r="1.45"/><circle cx="1340.5" cy="668.2" r="1.45"/><circle cx="1338.1" cy="680.4" r="1.45"/><circle cx="1343.0" cy="680.4" r="1.45"/><circle cx="1337.8" cy="684.0" r="1.45"/><circle cx="1342.5" cy="684.0" r="1.45"/><circle cx="1340.5" cy="696.6" r="1.45"/><circle cx="1340.5" cy="698.7" r="1.45"/><circle cx="1337.8" cy="702.0" r="1.45"/><circle cx="1342.5" cy="702.0" r="1.45"/><circle cx="1338.4" cy="711.3" r="1.45"/><circle cx="1342.3" cy="711.3" r="1.45"/><circle cx="1340.5" cy="713.1" r="1.45"/><circle cx="1340.5" cy="717.0" r="1.45"/><circle cx="1340.5" cy="720.6" r="1.45"/><circle cx="1337.9" cy="724.9" r="1.45"/><circle cx="1343.5" cy="724.9" r="1.45"/><circle cx="1390.9" cy="572.0" r="1.45"/><circle cx="1396.8" cy="572.0" r="1.45"/><circle cx="1394.3" cy="621.9" r="1.45"/><circle cx="1390.3" cy="635.9" r="1.45"/><circle cx="1393.8" cy="635.9" r="1.45"/><circle cx="1398.2" cy="635.9" r="1.45"/><circle cx="1394.3" cy="644.9" r="1.45"/><circle cx="1394.3" cy="658.2" r="1.45"/><circle cx="1394.3" cy="662.5" r="1.45"/><circle cx="1392.7" cy="669.7" r="1.45"/><circle cx="1396.0" cy="669.7" r="1.45"/><circle cx="1388.9" cy="676.5" r="1.45"/><circle cx="1394.1" cy="676.5" r="1.45"/><circle cx="1399.4" cy="676.5" r="1.45"/><circle cx="1394.3" cy="679.7" r="1.45"/><circle cx="1394.3" cy="682.9" r="1.45"/><circle cx="1394.3" cy="690.1" r="1.45"/><circle cx="1391.0" cy="699.8" r="1.45"/><circle cx="1396.2" cy="699.8" r="1.45"/><circle cx="1389.3" cy="708.8" r="1.45"/><circle cx="1395.1" cy="708.8" r="1.45"/><circle cx="1398.8" cy="708.8" r="1.45"/><circle cx="1381.4" cy="710.9" r="1.45"/><circle cx="1384.3" cy="710.9" r="1.45"/><circle cx="1389.3" cy="710.9" r="1.45"/><circle cx="1394.7" cy="710.9" r="1.45"/><circle cx="1399.8" cy="710.9" r="1.45"/><circle cx="1403.4" cy="710.9" r="1.45"/><circle cx="1407.4" cy="710.9" r="1.45"/><circle cx="1394.3" cy="713.1" r="1.45"/><circle cx="1391.1" cy="719.5" r="1.45"/><circle cx="1396.7" cy="719.5" r="1.45"/><circle cx="1389.0" cy="723.1" r="1.45"/><circle cx="1395.0" cy="723.1" r="1.45"/><circle cx="1399.7" cy="723.1" r="1.45"/><circle cx="1388.9" cy="725.3" r="1.45"/><circle cx="1393.8" cy="725.3" r="1.45"/><circle cx="1399.6" cy="725.3" r="1.45"/><circle cx="1392.3" cy="728.2" r="1.45"/><circle cx="1397.3" cy="728.2" r="1.45"/><circle cx="1389.3" cy="730.0" r="1.45"/><circle cx="1393.4" cy="730.0" r="1.45"/><circle cx="1398.4" cy="730.0" r="1.45"/><circle cx="1394.3" cy="736.1" r="1.45"/><circle cx="1394.3" cy="741.1" r="1.45"/><circle cx="1392.7" cy="755.8" r="1.45"/><circle cx="1396.1" cy="755.8" r="1.45"/></g>
<path d="M1017.8,601.7 V591.7 H1070 V603.4" fill="none" stroke="#000" stroke-width="3"/>
<path d="M1023.20,580.20 L1023.20,589.80 M1019.04,582.60 L1027.36,587.40 M1027.36,582.60 L1019.04,587.40" stroke="#000" stroke-width="2.2" stroke-linecap="round" fill="none"/>
<path d="M1036.40,580.20 L1036.40,589.80 M1032.24,582.60 L1040.56,587.40 M1040.56,582.60 L1032.24,587.40" stroke="#000" stroke-width="2.2" stroke-linecap="round" fill="none"/>
<path d="M1049.60,580.20 L1049.60,589.80 M1045.44,582.60 L1053.76,587.40 M1053.76,582.60 L1045.44,587.40" stroke="#000" stroke-width="2.2" stroke-linecap="round" fill="none"/>
<path d="M1062.80,580.20 L1062.80,589.80 M1058.64,582.60 L1066.96,587.40 M1066.96,582.60 L1058.64,587.40" stroke="#000" stroke-width="2.2" stroke-linecap="round" fill="none"/>
<path d="M1125.4,556.2 V520.7 H1180 V633.5" fill="none" stroke="#000" stroke-width="3"/>
<path d="M1127.70,506.60 L1127.70,516.20 M1123.54,509.00 L1131.86,513.80 M1131.86,509.00 L1123.54,513.80" stroke="#000" stroke-width="2.2" stroke-linecap="round" fill="none"/>
<path d="M1140.90,506.60 L1140.90,516.20 M1136.74,509.00 L1145.06,513.80 M1145.06,509.00 L1136.74,513.80" stroke="#000" stroke-width="2.2" stroke-linecap="round" fill="none"/>
<path d="M1154.10,506.60 L1154.10,516.20 M1149.94,509.00 L1158.26,513.80 M1158.26,509.00 L1149.94,513.80" stroke="#000" stroke-width="2.2" stroke-linecap="round" fill="none"/>
<path d="M1139.2,602 V594.4 H1180" fill="none" stroke="#000" stroke-width="3"/>
<path d="M1144.30,580.20 L1144.30,589.80 M1140.14,582.60 L1148.46,587.40 M1148.46,582.60 L1140.14,587.40" stroke="#000" stroke-width="2.2" stroke-linecap="round" fill="none"/>
<path d="M1157.50,580.20 L1157.50,589.80 M1153.34,582.60 L1161.66,587.40 M1161.66,582.60 L1153.34,587.40" stroke="#000" stroke-width="2.2" stroke-linecap="round" fill="none"/>
<path d="M1170.70,580.20 L1170.70,589.80 M1166.54,582.60 L1174.86,587.40 M1174.86,582.60 L1166.54,587.40" stroke="#000" stroke-width="2.2" stroke-linecap="round" fill="none"/>
<path d="M1227.5,589.2 V578.3 H1286 V588.4" fill="none" stroke="#000" stroke-width="3"/>
<path d="M1237.70,565.90 L1237.70,575.50 M1233.54,568.30 L1241.86,573.10 M1241.86,568.30 L1233.54,573.10" stroke="#000" stroke-width="2.2" stroke-linecap="round" fill="none"/>
<path d="M1250.90,565.90 L1250.90,575.50 M1246.74,568.30 L1255.06,573.10 M1255.06,568.30 L1246.74,573.10" stroke="#000" stroke-width="2.2" stroke-linecap="round" fill="none"/>
<path d="M1264.10,565.90 L1264.10,575.50 M1259.94,568.30 L1268.26,573.10 M1268.26,568.30 L1259.94,573.10" stroke="#000" stroke-width="2.2" stroke-linecap="round" fill="none"/>
<path d="M1277.30,565.90 L1277.30,575.50 M1273.14,568.30 L1281.46,573.10 M1281.46,568.30 L1273.14,573.10" stroke="#000" stroke-width="2.2" stroke-linecap="round" fill="none"/>
<text transform="translate(949.3,713.5) rotate(-90)" x="0" y="0" font-family="Liberation Sans, sans-serif" font-size="37" textLength="193" lengthAdjust="spacingAndGlyphs">counts/min</text>
<text x="898.5" y="849.7" font-family="Liberation Sans, sans-serif" font-size="40" font-weight="bold" textLength="29" lengthAdjust="spacingAndGlyphs">D</text>
<rect x="1058.8" y="872.5" width="25.9" height="253.7" fill="#a0a0a0"/>
<path d="M993.5,1075.9 L997.5,1067.8 L1001.0,1055.7 L1004.3,1069.2 L1008.3,1094.8 L1011.8,1094.8 L1015.0,1097.5 L1019.1,1089.4 L1023.1,1085.3 L1027.2,1089.4 L1031.2,1097.5 L1036.6,1092.1 L1040.6,1089.4 L1044.7,1096.1 L1048.7,1092.1 L1052.8,1090.7 L1056.8,1078.6 L1060.3,992.3 L1063.6,1027.4 L1067.6,1016.6 L1071.6,1024.7 L1075.7,1038.2 L1079.7,1030.1 L1083.8,1057.0 L1087.3,1081.3 L1090.5,1100.2 L1094.6,1078.6 L1098.6,1086.7 L1102.6,1086.7 L1106.7,1089.4 L1110.7,1094.8 L1114.8,1097.5 L1120.2,1092.1 L1126.9,1092.1 L1130.9,1097.5 L1135.0,1101.5 L1139.0,1106.9 L1144.4,1097.5 L1148.5,1084.0 L1153.9,1086.7 L1158.4,1082.6 L1163.3,1082.6 L1168.7,1089.4 L1172.7,1092.1 L1176.8,1078.6 L1181.6,1096.1 L1187.5,1078.6 L1192.9,1073.2 L1198.3,1075.9 L1203.7,1082.6 L1210.5,1086.7 L1214.5,1102.9 L1218.5,1081.3 L1222.6,1070.5 L1226.6,1078.6 L1230.7,1084.0 L1234.7,1089.4 L1238.8,1100.2 L1242.8,1078.6 L1246.8,1073.2 L1250.9,1062.4 L1254.9,1051.6 L1259.0,1059.7 L1263.0,1057.0 L1267.1,1070.5 L1272.5,1062.4 L1276.5,1065.1 L1280.5,1059.7 L1284.6,1067.8 L1290.0,1065.1 L1295.4,1073.2 L1299.4,1073.2 L1303.5,1075.9 L1307.5,1070.5 L1311.5,1081.3 L1314.8,1092.1 L1318.3,1065.1 L1322.3,1078.6 L1327.7,1075.9 L1331.8,1079.9 L1335.8,1073.2 L1340.6,1062.4 L1343.9,1078.6 L1347.9,1084.0 L1353.3,1059.7 L1356.0,1073.2 L1357.9,1092.1 L1361.4,1081.3 L1366.0,1078.6" fill="none" stroke="#2a2a2a" stroke-width="3" stroke-linecap="round" stroke-dasharray="4,6.5,0.1,6.5"/>
<path d="M989.4,1020.6 L992.1,1078.6 L996.2,1092.1 L1000.2,1093.4 L1004.3,1085.3 L1007.0,1092.1 L1009.1,1086.7 L1011.8,1067.8 L1013.7,1089.4 L1016.4,1086.7 L1019.9,1084.0 L1024.5,1044.9 L1028.5,1073.2 L1031.8,1078.6 L1036.6,1067.8 L1040.6,1061.1 L1044.7,1053.0 L1048.7,1065.1 L1052.2,1079.9 L1055.5,1078.6 L1058.2,1043.6 L1062.2,1012.6 L1065.7,1009.9 L1068.9,1013.9 L1071.6,1020.6 L1075.7,997.7 L1078.4,1020.6 L1081.1,1004.5 L1083.0,1020.6 L1085.1,999.1 L1087.8,1022.0 L1091.1,1020.6 L1094.6,1023.3 L1098.6,1012.6 L1103.5,1035.5 L1106.7,1028.7 L1111.5,1023.3 L1115.3,1036.8 L1120.2,1032.8 L1124.2,1036.8 L1127.7,1040.9 L1130.9,1026.0 L1134.2,1035.5 L1139.0,1007.2 L1143.1,1050.3 L1147.1,1051.6 L1151.2,1053.0 L1155.2,1019.3 L1159.2,1044.9 L1163.3,1048.9 L1167.3,1042.2 L1171.4,1046.3 L1175.4,1042.2 L1179.5,1026.0 L1182.7,1024.7 L1187.0,1020.6 L1190.2,1040.9 L1194.3,1059.7 L1198.3,1038.2 L1202.4,1020.6 L1206.4,1046.3 L1210.5,1053.0 L1214.5,1044.9 L1219.4,1040.9 L1222.6,1043.6 L1225.8,1015.3 L1230.7,1057.0 L1234.7,1040.9 L1238.2,1040.9 L1242.0,1018.0 L1246.8,1043.6 L1250.9,1032.8 L1254.4,1024.7 L1257.6,1048.9 L1261.7,1035.5 L1265.7,1024.7 L1269.8,1028.7 L1273.3,1036.8 L1276.5,1047.6 L1279.7,1047.6 L1282.4,1038.2 L1285.9,1054.3 L1290.0,1054.3 L1294.0,1058.4 L1298.6,1053.0 L1302.1,1051.6 L1306.1,1050.3 L1309.4,1022.0 L1312.9,1046.3 L1316.9,1046.3 L1321.0,1040.9 L1325.0,1022.0 L1329.1,1047.6 L1333.1,1028.7 L1337.1,1040.9 L1341.2,1039.5 L1345.2,1047.6 L1349.3,1054.3 L1353.3,1043.6 L1357.4,1035.5 L1361.4,1034.1 L1366.0,1050.3" fill="none" stroke="#000" stroke-width="3" stroke-linejoin="miter"/>
<path d="M985,871.3 V1126.2 H1366.2" fill="none" stroke="#000" stroke-width="2.5"/>
<line x1="1179.4" y1="864.7" x2="1179.4" y2="1126.2" stroke="#000" stroke-width="3"/>
<line x1="1273.7" y1="864.7" x2="1273.7" y2="1126.2" stroke="#000" stroke-width="3"/>
<line x1="981" y1="1062.7" x2="985" y2="1062.7" stroke="#000" stroke-width="2"/>
<text x="978.0" y="1075.2" font-family="Liberation Sans, sans-serif" font-size="36" text-anchor="end">2</text>
<line x1="981" y1="999.2" x2="985" y2="999.2" stroke="#000" stroke-width="2"/>
<text x="978.0" y="1011.8" font-family="Liberation Sans, sans-serif" font-size="36" text-anchor="end">4</text>
<line x1="981" y1="935.8" x2="985" y2="935.8" stroke="#000" stroke-width="2"/>
<text x="978.0" y="948.3" font-family="Liberation Sans, sans-serif" font-size="36" text-anchor="end">6</text>
<line x1="981" y1="872.3" x2="985" y2="872.3" stroke="#000" stroke-width="2"/>
<text x="978.0" y="884.8" font-family="Liberation Sans, sans-serif" font-size="36" text-anchor="end">8</text>
<line x1="988.8" y1="1126.2" x2="988.8" y2="1130.2" stroke="#000" stroke-width="2"/>
<line x1="1084" y1="1126.2" x2="1084" y2="1130.2" stroke="#000" stroke-width="2"/>
<line x1="1179.4" y1="1126.2" x2="1179.4" y2="1130.2" stroke="#000" stroke-width="2"/>
<line x1="1273.7" y1="1126.2" x2="1273.7" y2="1130.2" stroke="#000" stroke-width="2"/>
<line x1="1365.6" y1="1126.2" x2="1365.6" y2="1130.2" stroke="#000" stroke-width="2"/>
<text x="1084.0" y="1149.0" font-family="Liberation Sans, sans-serif" font-size="22" font-weight="bold" text-anchor="middle">0</text>
<text x="1179.4" y="1149.0" font-family="Liberation Sans, sans-serif" font-size="22" font-weight="bold" text-anchor="middle">24</text>
<text x="1274.3" y="1149.0" font-family="Liberation Sans, sans-serif" font-size="22" font-weight="bold" text-anchor="middle">48</text>
<text x="1366.2" y="1149.0" font-family="Liberation Sans, sans-serif" font-size="22" font-weight="bold" text-anchor="middle">72</text>
<text x="987.0" y="898.8" font-family="Liberation Sans, sans-serif" font-size="24" font-weight="bold" textLength="74" lengthAdjust="spacingAndGlyphs">LD18:6</text>
<text x="1165.0" y="1187.5" font-family="Liberation Sans, sans-serif" font-size="37" textLength="114" lengthAdjust="spacingAndGlyphs">time [h]</text>
<text x="1090.0" y="1237.0" font-family="Liberation Sans, sans-serif" font-size="33" textLength="272" lengthAdjust="spacingAndGlyphs">after DD or LL start</text>
<text transform="translate(946.1,1080.1) rotate(-90)" x="0" y="0" font-family="Liberation Sans, sans-serif" font-size="37" textLength="193" lengthAdjust="spacingAndGlyphs">counts/min</text>
<path d="M1078.3,978.2 H1091.6 L1085,992 Z" fill="#000"/>
<path d="M1131.4,1126 H1146.2 L1138.8,1110.6 Z" fill="#000"/>
<path d="M598,172.6 H612.8 L605.4,187.5 Z" fill="#000"/>
<path d="M686.9,528.5 H701.2 L694,543.9 Z" fill="#000"/>
<path d="M784.7,973.4 H798.8 L791.7,988.2 Z" fill="#000"/>
<line x1="1420" y1="875.3" x2="1443" y2="875.3" stroke="#000" stroke-width="3.5"/>
<text x="1450.0" y="879.7" font-family="Liberation Sans, sans-serif" font-size="23.5" font-weight="bold" textLength="32" lengthAdjust="spacingAndGlyphs">DD</text>
<line x1="1417.5" y1="937" x2="1424.5" y2="937" stroke="#000" stroke-width="4" stroke-linecap="round"/>
<circle cx="1433.6" cy="937" r="2"/>
<text x="1453.0" y="942.0" font-family="Liberation Sans, sans-serif" font-size="24" font-weight="bold" textLength="21.5" lengthAdjust="spacingAndGlyphs">LL</text>
</svg></body></html>
